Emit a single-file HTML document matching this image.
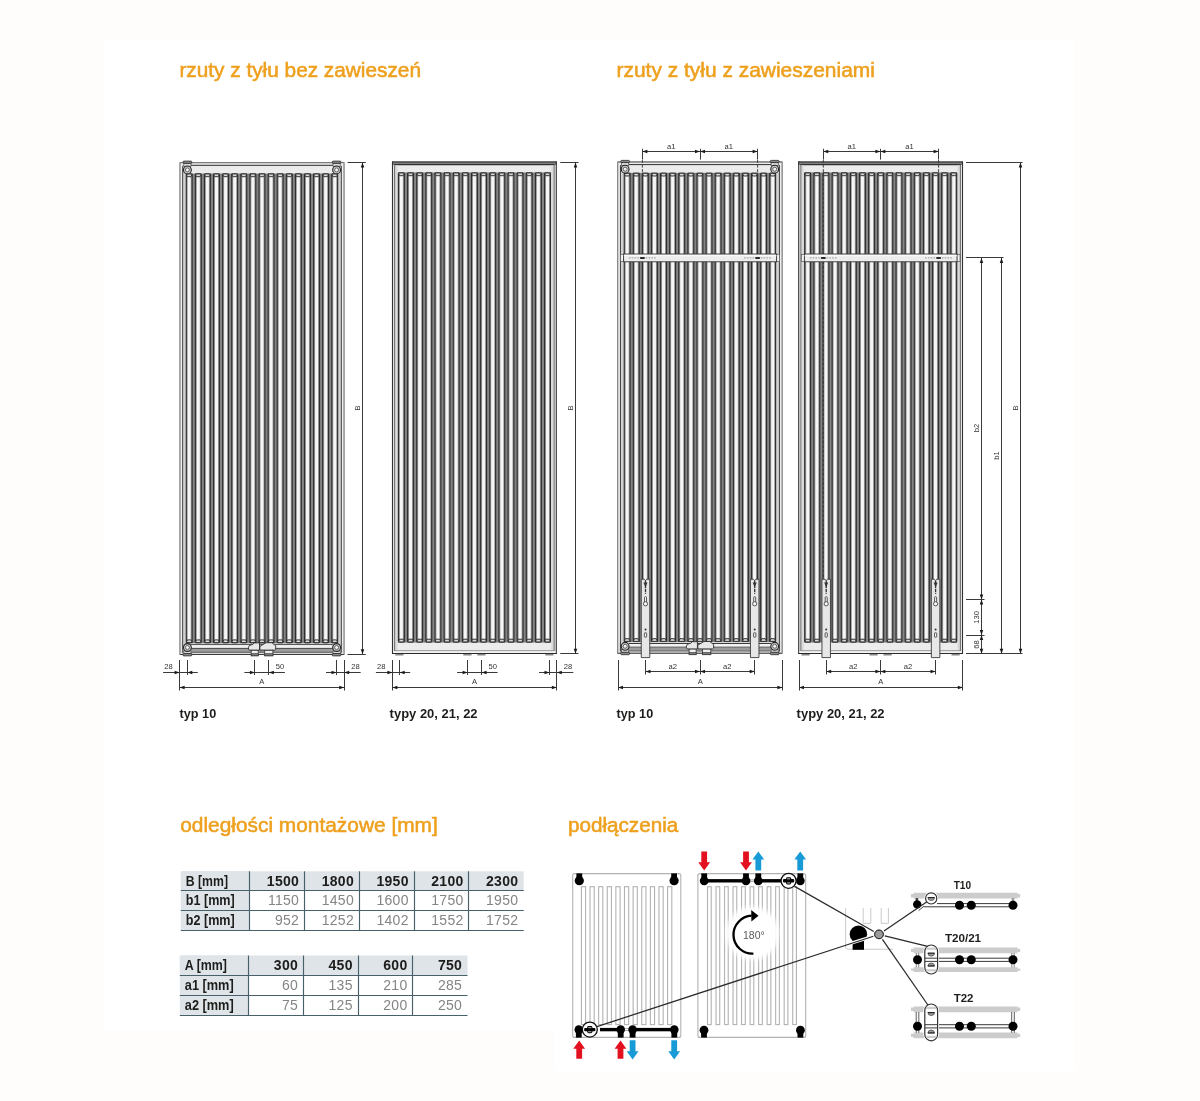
<!DOCTYPE html>
<html lang="pl"><head><meta charset="utf-8"><title>rzuty z tyłu</title>
<style>
html,body{margin:0;padding:0;background:#fefdfb;}
body{width:1200px;height:1101px;overflow:hidden;position:relative;font-family:'Liberation Sans',sans-serif;}
svg{position:absolute;left:0;top:0;display:block;}
svg text{font-family:'Liberation Sans',sans-serif;}
.h{font-size:20.2px;fill:#eea01e;stroke:#eea01e;stroke-width:0.55px;}
</style></head><body>
<svg width="1200" height="1101" viewBox="0 0 1200 1101">
<defs><filter id="soft" x="-2%" y="-2%" width="104%" height="104%"><feGaussianBlur stdDeviation="0.25"/></filter><filter id="soft2" x="-20%" y="-20%" width="140%" height="140%"><feGaussianBlur stdDeviation="2.2"/></filter></defs>
<rect x="0" y="0" width="1200" height="1101" fill="#fefdfb"/>
<rect x="104" y="40" width="971" height="990" fill="#ffffff"/>
<rect x="555" y="1030" width="520" height="41" fill="#ffffff"/>

<text class="h" x="179.4" y="76.5" textLength="241.6" lengthAdjust="spacingAndGlyphs">rzuty z tyłu bez zawieszeń</text>
<text class="h" x="616.5" y="76.5" textLength="258.4" lengthAdjust="spacingAndGlyphs">rzuty z tyłu z zawieszeniami</text>
<text class="h" x="180.2" y="831.8" textLength="257.6" lengthAdjust="spacingAndGlyphs">odległości montażowe [mm]</text>
<text class="h" x="568" y="832.0" textLength="110.2" lengthAdjust="spacingAndGlyphs">podłączenia</text>
<g filter="url(#soft)">
<rect x="179.60" y="162.30" width="164.80" height="492.60" fill="#848484" stroke="none" stroke-width="1" rx="0" />
<rect x="179.60" y="162.30" width="6.60" height="492.60" fill="#ededed" stroke="none" stroke-width="1" rx="0" />
<rect x="337.80" y="162.30" width="6.60" height="492.60" fill="#ededed" stroke="none" stroke-width="1" rx="0" />
<rect x="180.60" y="162.30" width="162.80" height="11.20" fill="#ececec" stroke="none" stroke-width="1" rx="0" />
<rect x="180.60" y="643.30" width="162.80" height="11.60" fill="#e4e4e4" stroke="none" stroke-width="1" rx="0" />
<line x1="180.00" y1="162.30" x2="180.00" y2="654.90" stroke="#707070" stroke-width="1.0" />
<line x1="344.00" y1="162.30" x2="344.00" y2="654.90" stroke="#707070" stroke-width="1.0" />
<rect x="183.30" y="165.80" width="2.60" height="488.60" fill="#d2d2d2" stroke="none" stroke-width="1" rx="0" />
<rect x="338.10" y="165.80" width="2.60" height="488.60" fill="#d2d2d2" stroke="none" stroke-width="1" rx="0" />
<line x1="182.70" y1="165.80" x2="182.70" y2="654.40" stroke="#3c3c3c" stroke-width="1.0" />
<line x1="341.30" y1="165.80" x2="341.30" y2="654.40" stroke="#3c3c3c" stroke-width="1.0" />
<line x1="180.10" y1="162.70" x2="343.90" y2="162.70" stroke="#7c7c7c" stroke-width="1.3" />
<line x1="191.10" y1="165.30" x2="332.90" y2="165.30" stroke="#2e2e2e" stroke-width="1.0" />
<line x1="191.10" y1="644.70" x2="332.90" y2="644.70" stroke="#3a3a3a" stroke-width="1.0" />
<rect x="191.10" y="645.20" width="141.80" height="2.80" fill="#f2f2f2" stroke="none" stroke-width="1" rx="0" />
<line x1="191.10" y1="648.40" x2="332.90" y2="648.40" stroke="#3a3a3a" stroke-width="1.0" />
<rect x="191.10" y="648.90" width="141.80" height="3.00" fill="#9c9c9c" stroke="none" stroke-width="1" rx="0" />
<line x1="191.10" y1="652.30" x2="332.90" y2="652.30" stroke="#3a3a3a" stroke-width="1.0" />
<rect x="180.60" y="652.80" width="162.80" height="1.40" fill="#dcdcdc" stroke="none" stroke-width="1" rx="0" />
<line x1="180.10" y1="654.50" x2="343.90" y2="654.50" stroke="#3a3a3a" stroke-width="1.1" />
<rect x="185.70" y="173.40" width="7.00" height="469.80" fill="#2e2e2e" stroke="none" stroke-width="1" rx="1.4" />
<rect x="186.85" y="174.20" width="4.70" height="468.20" fill="#9c9c9c" stroke="none" stroke-width="1" rx="0.8" />
<rect x="187.72" y="176.60" width="2.96" height="463.40" fill="#f6f6f6" stroke="none" stroke-width="1" rx="0" />
<path d="M186.30 174.00 H192.10 L191.00 176.70 H187.40 Z" fill="#d8d8d8" stroke="#262626" stroke-width="0.9" stroke-linejoin="round"/>
<path d="M186.30 642.60 H192.10 L191.00 639.90 H187.40 Z" fill="#d8d8d8" stroke="#262626" stroke-width="0.9" stroke-linejoin="round"/>
<rect x="194.80" y="173.40" width="7.00" height="469.80" fill="#2e2e2e" stroke="none" stroke-width="1" rx="1.4" />
<rect x="195.95" y="174.20" width="4.70" height="468.20" fill="#9c9c9c" stroke="none" stroke-width="1" rx="0.8" />
<rect x="196.82" y="176.60" width="2.96" height="463.40" fill="#f6f6f6" stroke="none" stroke-width="1" rx="0" />
<path d="M195.40 174.00 H201.20 L200.10 176.70 H196.50 Z" fill="#d8d8d8" stroke="#262626" stroke-width="0.9" stroke-linejoin="round"/>
<path d="M195.40 642.60 H201.20 L200.10 639.90 H196.50 Z" fill="#d8d8d8" stroke="#262626" stroke-width="0.9" stroke-linejoin="round"/>
<rect x="203.89" y="173.40" width="7.00" height="469.80" fill="#2e2e2e" stroke="none" stroke-width="1" rx="1.4" />
<rect x="205.04" y="174.20" width="4.70" height="468.20" fill="#9c9c9c" stroke="none" stroke-width="1" rx="0.8" />
<rect x="205.91" y="176.60" width="2.96" height="463.40" fill="#f6f6f6" stroke="none" stroke-width="1" rx="0" />
<path d="M204.49 174.00 H210.29 L209.19 176.70 H205.59 Z" fill="#d8d8d8" stroke="#262626" stroke-width="0.9" stroke-linejoin="round"/>
<path d="M204.49 642.60 H210.29 L209.19 639.90 H205.59 Z" fill="#d8d8d8" stroke="#262626" stroke-width="0.9" stroke-linejoin="round"/>
<rect x="212.99" y="173.40" width="7.00" height="469.80" fill="#2e2e2e" stroke="none" stroke-width="1" rx="1.4" />
<rect x="214.14" y="174.20" width="4.70" height="468.20" fill="#9c9c9c" stroke="none" stroke-width="1" rx="0.8" />
<rect x="215.01" y="176.60" width="2.96" height="463.40" fill="#f6f6f6" stroke="none" stroke-width="1" rx="0" />
<path d="M213.59 174.00 H219.39 L218.29 176.70 H214.69 Z" fill="#d8d8d8" stroke="#262626" stroke-width="0.9" stroke-linejoin="round"/>
<path d="M213.59 642.60 H219.39 L218.29 639.90 H214.69 Z" fill="#d8d8d8" stroke="#262626" stroke-width="0.9" stroke-linejoin="round"/>
<rect x="222.09" y="173.40" width="7.00" height="469.80" fill="#2e2e2e" stroke="none" stroke-width="1" rx="1.4" />
<rect x="223.24" y="174.20" width="4.70" height="468.20" fill="#9c9c9c" stroke="none" stroke-width="1" rx="0.8" />
<rect x="224.11" y="176.60" width="2.96" height="463.40" fill="#f6f6f6" stroke="none" stroke-width="1" rx="0" />
<path d="M222.69 174.00 H228.49 L227.39 176.70 H223.79 Z" fill="#d8d8d8" stroke="#262626" stroke-width="0.9" stroke-linejoin="round"/>
<path d="M222.69 642.60 H228.49 L227.39 639.90 H223.79 Z" fill="#d8d8d8" stroke="#262626" stroke-width="0.9" stroke-linejoin="round"/>
<rect x="231.18" y="173.40" width="7.00" height="469.80" fill="#2e2e2e" stroke="none" stroke-width="1" rx="1.4" />
<rect x="232.33" y="174.20" width="4.70" height="468.20" fill="#9c9c9c" stroke="none" stroke-width="1" rx="0.8" />
<rect x="233.20" y="176.60" width="2.96" height="463.40" fill="#f6f6f6" stroke="none" stroke-width="1" rx="0" />
<path d="M231.78 174.00 H237.58 L236.48 176.70 H232.88 Z" fill="#d8d8d8" stroke="#262626" stroke-width="0.9" stroke-linejoin="round"/>
<path d="M231.78 642.60 H237.58 L236.48 639.90 H232.88 Z" fill="#d8d8d8" stroke="#262626" stroke-width="0.9" stroke-linejoin="round"/>
<rect x="240.28" y="173.40" width="7.00" height="469.80" fill="#2e2e2e" stroke="none" stroke-width="1" rx="1.4" />
<rect x="241.43" y="174.20" width="4.70" height="468.20" fill="#9c9c9c" stroke="none" stroke-width="1" rx="0.8" />
<rect x="242.30" y="176.60" width="2.96" height="463.40" fill="#f6f6f6" stroke="none" stroke-width="1" rx="0" />
<path d="M240.88 174.00 H246.68 L245.58 176.70 H241.98 Z" fill="#d8d8d8" stroke="#262626" stroke-width="0.9" stroke-linejoin="round"/>
<path d="M240.88 642.60 H246.68 L245.58 639.90 H241.98 Z" fill="#d8d8d8" stroke="#262626" stroke-width="0.9" stroke-linejoin="round"/>
<rect x="249.38" y="173.40" width="7.00" height="469.80" fill="#2e2e2e" stroke="none" stroke-width="1" rx="1.4" />
<rect x="250.53" y="174.20" width="4.70" height="468.20" fill="#9c9c9c" stroke="none" stroke-width="1" rx="0.8" />
<rect x="251.40" y="176.60" width="2.96" height="463.40" fill="#f6f6f6" stroke="none" stroke-width="1" rx="0" />
<path d="M249.98 174.00 H255.78 L254.68 176.70 H251.08 Z" fill="#d8d8d8" stroke="#262626" stroke-width="0.9" stroke-linejoin="round"/>
<path d="M249.98 642.60 H255.78 L254.68 639.90 H251.08 Z" fill="#d8d8d8" stroke="#262626" stroke-width="0.9" stroke-linejoin="round"/>
<rect x="258.48" y="173.40" width="7.00" height="469.80" fill="#2e2e2e" stroke="none" stroke-width="1" rx="1.4" />
<rect x="259.62" y="174.20" width="4.70" height="468.20" fill="#9c9c9c" stroke="none" stroke-width="1" rx="0.8" />
<rect x="260.50" y="176.60" width="2.96" height="463.40" fill="#f6f6f6" stroke="none" stroke-width="1" rx="0" />
<path d="M259.08 174.00 H264.88 L263.78 176.70 H260.18 Z" fill="#d8d8d8" stroke="#262626" stroke-width="0.9" stroke-linejoin="round"/>
<path d="M259.08 642.60 H264.88 L263.78 639.90 H260.18 Z" fill="#d8d8d8" stroke="#262626" stroke-width="0.9" stroke-linejoin="round"/>
<rect x="267.57" y="173.40" width="7.00" height="469.80" fill="#2e2e2e" stroke="none" stroke-width="1" rx="1.4" />
<rect x="268.72" y="174.20" width="4.70" height="468.20" fill="#9c9c9c" stroke="none" stroke-width="1" rx="0.8" />
<rect x="269.59" y="176.60" width="2.96" height="463.40" fill="#f6f6f6" stroke="none" stroke-width="1" rx="0" />
<path d="M268.17 174.00 H273.97 L272.87 176.70 H269.27 Z" fill="#d8d8d8" stroke="#262626" stroke-width="0.9" stroke-linejoin="round"/>
<path d="M268.17 642.60 H273.97 L272.87 639.90 H269.27 Z" fill="#d8d8d8" stroke="#262626" stroke-width="0.9" stroke-linejoin="round"/>
<rect x="276.67" y="173.40" width="7.00" height="469.80" fill="#2e2e2e" stroke="none" stroke-width="1" rx="1.4" />
<rect x="277.82" y="174.20" width="4.70" height="468.20" fill="#9c9c9c" stroke="none" stroke-width="1" rx="0.8" />
<rect x="278.69" y="176.60" width="2.96" height="463.40" fill="#f6f6f6" stroke="none" stroke-width="1" rx="0" />
<path d="M277.27 174.00 H283.07 L281.97 176.70 H278.37 Z" fill="#d8d8d8" stroke="#262626" stroke-width="0.9" stroke-linejoin="round"/>
<path d="M277.27 642.60 H283.07 L281.97 639.90 H278.37 Z" fill="#d8d8d8" stroke="#262626" stroke-width="0.9" stroke-linejoin="round"/>
<rect x="285.77" y="173.40" width="7.00" height="469.80" fill="#2e2e2e" stroke="none" stroke-width="1" rx="1.4" />
<rect x="286.92" y="174.20" width="4.70" height="468.20" fill="#9c9c9c" stroke="none" stroke-width="1" rx="0.8" />
<rect x="287.79" y="176.60" width="2.96" height="463.40" fill="#f6f6f6" stroke="none" stroke-width="1" rx="0" />
<path d="M286.37 174.00 H292.17 L291.07 176.70 H287.47 Z" fill="#d8d8d8" stroke="#262626" stroke-width="0.9" stroke-linejoin="round"/>
<path d="M286.37 642.60 H292.17 L291.07 639.90 H287.47 Z" fill="#d8d8d8" stroke="#262626" stroke-width="0.9" stroke-linejoin="round"/>
<rect x="294.86" y="173.40" width="7.00" height="469.80" fill="#2e2e2e" stroke="none" stroke-width="1" rx="1.4" />
<rect x="296.01" y="174.20" width="4.70" height="468.20" fill="#9c9c9c" stroke="none" stroke-width="1" rx="0.8" />
<rect x="296.88" y="176.60" width="2.96" height="463.40" fill="#f6f6f6" stroke="none" stroke-width="1" rx="0" />
<path d="M295.46 174.00 H301.26 L300.16 176.70 H296.56 Z" fill="#d8d8d8" stroke="#262626" stroke-width="0.9" stroke-linejoin="round"/>
<path d="M295.46 642.60 H301.26 L300.16 639.90 H296.56 Z" fill="#d8d8d8" stroke="#262626" stroke-width="0.9" stroke-linejoin="round"/>
<rect x="303.96" y="173.40" width="7.00" height="469.80" fill="#2e2e2e" stroke="none" stroke-width="1" rx="1.4" />
<rect x="305.11" y="174.20" width="4.70" height="468.20" fill="#9c9c9c" stroke="none" stroke-width="1" rx="0.8" />
<rect x="305.98" y="176.60" width="2.96" height="463.40" fill="#f6f6f6" stroke="none" stroke-width="1" rx="0" />
<path d="M304.56 174.00 H310.36 L309.26 176.70 H305.66 Z" fill="#d8d8d8" stroke="#262626" stroke-width="0.9" stroke-linejoin="round"/>
<path d="M304.56 642.60 H310.36 L309.26 639.90 H305.66 Z" fill="#d8d8d8" stroke="#262626" stroke-width="0.9" stroke-linejoin="round"/>
<rect x="313.06" y="173.40" width="7.00" height="469.80" fill="#2e2e2e" stroke="none" stroke-width="1" rx="1.4" />
<rect x="314.21" y="174.20" width="4.70" height="468.20" fill="#9c9c9c" stroke="none" stroke-width="1" rx="0.8" />
<rect x="315.08" y="176.60" width="2.96" height="463.40" fill="#f6f6f6" stroke="none" stroke-width="1" rx="0" />
<path d="M313.66 174.00 H319.46 L318.36 176.70 H314.76 Z" fill="#d8d8d8" stroke="#262626" stroke-width="0.9" stroke-linejoin="round"/>
<path d="M313.66 642.60 H319.46 L318.36 639.90 H314.76 Z" fill="#d8d8d8" stroke="#262626" stroke-width="0.9" stroke-linejoin="round"/>
<rect x="322.15" y="173.40" width="7.00" height="469.80" fill="#2e2e2e" stroke="none" stroke-width="1" rx="1.4" />
<rect x="323.30" y="174.20" width="4.70" height="468.20" fill="#9c9c9c" stroke="none" stroke-width="1" rx="0.8" />
<rect x="324.17" y="176.60" width="2.96" height="463.40" fill="#f6f6f6" stroke="none" stroke-width="1" rx="0" />
<path d="M322.75 174.00 H328.55 L327.45 176.70 H323.85 Z" fill="#d8d8d8" stroke="#262626" stroke-width="0.9" stroke-linejoin="round"/>
<path d="M322.75 642.60 H328.55 L327.45 639.90 H323.85 Z" fill="#d8d8d8" stroke="#262626" stroke-width="0.9" stroke-linejoin="round"/>
<rect x="331.25" y="173.40" width="7.00" height="469.80" fill="#2e2e2e" stroke="none" stroke-width="1" rx="1.4" />
<rect x="332.40" y="174.20" width="4.70" height="468.20" fill="#9c9c9c" stroke="none" stroke-width="1" rx="0.8" />
<rect x="333.27" y="176.60" width="2.96" height="463.40" fill="#f6f6f6" stroke="none" stroke-width="1" rx="0" />
<path d="M331.85 174.00 H337.65 L336.55 176.70 H332.95 Z" fill="#d8d8d8" stroke="#262626" stroke-width="0.9" stroke-linejoin="round"/>
<path d="M331.85 642.60 H337.65 L336.55 639.90 H332.95 Z" fill="#d8d8d8" stroke="#262626" stroke-width="0.9" stroke-linejoin="round"/>
<rect x="183.80" y="163.30" width="7.20" height="3.00" fill="#dedede" stroke="#444" stroke-width="0.7" rx="0" />
<rect x="183.00" y="161.10" width="8.80" height="2.20" fill="#8c8c8c" stroke="#2a2a2a" stroke-width="0.8" rx="0.9" />
<circle cx="187.40" cy="169.90" r="3.90" fill="#cdcdcd" stroke="#222" stroke-width="1.1"/>
<circle cx="187.40" cy="169.90" r="2.00" fill="#f4f4f4" stroke="#444" stroke-width="0.8"/>
<rect x="183.80" y="650.90" width="7.20" height="2.60" fill="#dedede" stroke="#444" stroke-width="0.7" rx="0" />
<rect x="183.00" y="653.50" width="8.80" height="2.40" fill="#8c8c8c" stroke="#2a2a2a" stroke-width="0.8" rx="0.9" />
<circle cx="187.40" cy="647.50" r="3.90" fill="#cdcdcd" stroke="#222" stroke-width="1.1"/>
<circle cx="187.40" cy="647.50" r="2.00" fill="#f4f4f4" stroke="#444" stroke-width="0.8"/>
<rect x="333.00" y="163.30" width="7.20" height="3.00" fill="#dedede" stroke="#444" stroke-width="0.7" rx="0" />
<rect x="332.20" y="161.10" width="8.80" height="2.20" fill="#8c8c8c" stroke="#2a2a2a" stroke-width="0.8" rx="0.9" />
<circle cx="336.60" cy="169.90" r="3.90" fill="#cdcdcd" stroke="#222" stroke-width="1.1"/>
<circle cx="336.60" cy="169.90" r="2.00" fill="#f4f4f4" stroke="#444" stroke-width="0.8"/>
<rect x="333.00" y="650.90" width="7.20" height="2.60" fill="#dedede" stroke="#444" stroke-width="0.7" rx="0" />
<rect x="332.20" y="653.50" width="8.80" height="2.40" fill="#8c8c8c" stroke="#2a2a2a" stroke-width="0.8" rx="0.9" />
<circle cx="336.60" cy="647.50" r="3.90" fill="#cdcdcd" stroke="#222" stroke-width="1.1"/>
<circle cx="336.60" cy="647.50" r="2.00" fill="#f4f4f4" stroke="#444" stroke-width="0.8"/>
<rect x="251.20" y="650.10" width="7.00" height="5.80" fill="#f0f0f0" stroke="#333" stroke-width="0.8" rx="0" />
<rect x="251.20" y="653.70" width="7.00" height="2.00" fill="#7c7c7c" stroke="#333" stroke-width="0.6" rx="0" />
<rect x="264.70" y="650.10" width="8.20" height="5.80" fill="#f0f0f0" stroke="#333" stroke-width="0.8" rx="0" />
<rect x="264.70" y="653.70" width="8.20" height="2.00" fill="#7c7c7c" stroke="#333" stroke-width="0.6" rx="0" />
<polygon points="248.50,647.30 249.30,645.50 252.50,644.50 254.50,642.90 259.50,642.90 259.50,650.10 249.30,650.10 248.50,649.10" fill="#e8e8e8" stroke="#2e2e2e" stroke-width="0.9"/>
<polygon points="259.90,646.30 266.10,642.70 271.90,642.70 274.90,645.10 275.70,645.70 275.70,649.30 274.70,650.10 259.90,650.10" fill="#e8e8e8" stroke="#2e2e2e" stroke-width="0.9"/>
<rect x="392.00" y="161.40" width="164.80" height="492.60" fill="#ececec" stroke="none" stroke-width="1" rx="0" />
<rect x="397.60" y="172.40" width="153.60" height="470.20" fill="#848484" stroke="none" stroke-width="1" rx="0" />
<rect x="392.00" y="161.40" width="164.80" height="3.60" fill="#7e7e7e" stroke="none" stroke-width="1" rx="0" />
<line x1="392.00" y1="162.00" x2="556.80" y2="162.00" stroke="#333" stroke-width="1.1" />
<line x1="394.40" y1="164.60" x2="554.40" y2="164.60" stroke="#333" stroke-width="1.1" />
<line x1="392.50" y1="161.40" x2="392.50" y2="654.00" stroke="#333" stroke-width="1.1" />
<line x1="394.80" y1="164.40" x2="394.80" y2="651.00" stroke="#444" stroke-width="1.0" />
<rect x="395.40" y="165.20" width="2.20" height="485.40" fill="#dadada" stroke="none" stroke-width="1" rx="0" />
<line x1="556.30" y1="161.40" x2="556.30" y2="654.00" stroke="#333" stroke-width="1.1" />
<line x1="554.00" y1="164.40" x2="554.00" y2="651.00" stroke="#444" stroke-width="1.0" />
<rect x="551.20" y="165.20" width="2.20" height="485.40" fill="#dadada" stroke="none" stroke-width="1" rx="0" />
<line x1="394.80" y1="650.80" x2="554.00" y2="650.80" stroke="#8a8a8a" stroke-width="1.0" />
<rect x="393.20" y="651.40" width="162.40" height="1.80" fill="#f4f4f4" stroke="none" stroke-width="1" rx="0" />
<line x1="392.00" y1="653.50" x2="556.80" y2="653.50" stroke="#2a2a2a" stroke-width="1.2" />
<rect x="397.90" y="172.40" width="7.00" height="470.10" fill="#2e2e2e" stroke="none" stroke-width="1" rx="1.4" />
<rect x="399.05" y="173.20" width="4.70" height="468.50" fill="#9c9c9c" stroke="none" stroke-width="1" rx="0.8" />
<rect x="399.92" y="175.60" width="2.96" height="463.70" fill="#f6f6f6" stroke="none" stroke-width="1" rx="0" />
<path d="M398.50 173.00 H404.30 L403.20 175.70 H399.60 Z" fill="#d8d8d8" stroke="#262626" stroke-width="0.9" stroke-linejoin="round"/>
<path d="M398.50 641.90 H404.30 L403.20 639.20 H399.60 Z" fill="#d8d8d8" stroke="#262626" stroke-width="0.9" stroke-linejoin="round"/>
<rect x="407.03" y="172.40" width="7.00" height="470.10" fill="#2e2e2e" stroke="none" stroke-width="1" rx="1.4" />
<rect x="408.18" y="173.20" width="4.70" height="468.50" fill="#9c9c9c" stroke="none" stroke-width="1" rx="0.8" />
<rect x="409.05" y="175.60" width="2.96" height="463.70" fill="#f6f6f6" stroke="none" stroke-width="1" rx="0" />
<path d="M407.63 173.00 H413.43 L412.33 175.70 H408.73 Z" fill="#d8d8d8" stroke="#262626" stroke-width="0.9" stroke-linejoin="round"/>
<path d="M407.63 641.90 H413.43 L412.33 639.20 H408.73 Z" fill="#d8d8d8" stroke="#262626" stroke-width="0.9" stroke-linejoin="round"/>
<rect x="416.16" y="172.40" width="7.00" height="470.10" fill="#2e2e2e" stroke="none" stroke-width="1" rx="1.4" />
<rect x="417.31" y="173.20" width="4.70" height="468.50" fill="#9c9c9c" stroke="none" stroke-width="1" rx="0.8" />
<rect x="418.18" y="175.60" width="2.96" height="463.70" fill="#f6f6f6" stroke="none" stroke-width="1" rx="0" />
<path d="M416.76 173.00 H422.56 L421.46 175.70 H417.86 Z" fill="#d8d8d8" stroke="#262626" stroke-width="0.9" stroke-linejoin="round"/>
<path d="M416.76 641.90 H422.56 L421.46 639.20 H417.86 Z" fill="#d8d8d8" stroke="#262626" stroke-width="0.9" stroke-linejoin="round"/>
<rect x="425.29" y="172.40" width="7.00" height="470.10" fill="#2e2e2e" stroke="none" stroke-width="1" rx="1.4" />
<rect x="426.44" y="173.20" width="4.70" height="468.50" fill="#9c9c9c" stroke="none" stroke-width="1" rx="0.8" />
<rect x="427.31" y="175.60" width="2.96" height="463.70" fill="#f6f6f6" stroke="none" stroke-width="1" rx="0" />
<path d="M425.89 173.00 H431.69 L430.59 175.70 H426.99 Z" fill="#d8d8d8" stroke="#262626" stroke-width="0.9" stroke-linejoin="round"/>
<path d="M425.89 641.90 H431.69 L430.59 639.20 H426.99 Z" fill="#d8d8d8" stroke="#262626" stroke-width="0.9" stroke-linejoin="round"/>
<rect x="434.42" y="172.40" width="7.00" height="470.10" fill="#2e2e2e" stroke="none" stroke-width="1" rx="1.4" />
<rect x="435.57" y="173.20" width="4.70" height="468.50" fill="#9c9c9c" stroke="none" stroke-width="1" rx="0.8" />
<rect x="436.44" y="175.60" width="2.96" height="463.70" fill="#f6f6f6" stroke="none" stroke-width="1" rx="0" />
<path d="M435.02 173.00 H440.82 L439.72 175.70 H436.12 Z" fill="#d8d8d8" stroke="#262626" stroke-width="0.9" stroke-linejoin="round"/>
<path d="M435.02 641.90 H440.82 L439.72 639.20 H436.12 Z" fill="#d8d8d8" stroke="#262626" stroke-width="0.9" stroke-linejoin="round"/>
<rect x="443.56" y="172.40" width="7.00" height="470.10" fill="#2e2e2e" stroke="none" stroke-width="1" rx="1.4" />
<rect x="444.71" y="173.20" width="4.70" height="468.50" fill="#9c9c9c" stroke="none" stroke-width="1" rx="0.8" />
<rect x="445.58" y="175.60" width="2.96" height="463.70" fill="#f6f6f6" stroke="none" stroke-width="1" rx="0" />
<path d="M444.16 173.00 H449.96 L448.86 175.70 H445.26 Z" fill="#d8d8d8" stroke="#262626" stroke-width="0.9" stroke-linejoin="round"/>
<path d="M444.16 641.90 H449.96 L448.86 639.20 H445.26 Z" fill="#d8d8d8" stroke="#262626" stroke-width="0.9" stroke-linejoin="round"/>
<rect x="452.69" y="172.40" width="7.00" height="470.10" fill="#2e2e2e" stroke="none" stroke-width="1" rx="1.4" />
<rect x="453.84" y="173.20" width="4.70" height="468.50" fill="#9c9c9c" stroke="none" stroke-width="1" rx="0.8" />
<rect x="454.71" y="175.60" width="2.96" height="463.70" fill="#f6f6f6" stroke="none" stroke-width="1" rx="0" />
<path d="M453.29 173.00 H459.09 L457.99 175.70 H454.39 Z" fill="#d8d8d8" stroke="#262626" stroke-width="0.9" stroke-linejoin="round"/>
<path d="M453.29 641.90 H459.09 L457.99 639.20 H454.39 Z" fill="#d8d8d8" stroke="#262626" stroke-width="0.9" stroke-linejoin="round"/>
<rect x="461.82" y="172.40" width="7.00" height="470.10" fill="#2e2e2e" stroke="none" stroke-width="1" rx="1.4" />
<rect x="462.97" y="173.20" width="4.70" height="468.50" fill="#9c9c9c" stroke="none" stroke-width="1" rx="0.8" />
<rect x="463.84" y="175.60" width="2.96" height="463.70" fill="#f6f6f6" stroke="none" stroke-width="1" rx="0" />
<path d="M462.42 173.00 H468.22 L467.12 175.70 H463.52 Z" fill="#d8d8d8" stroke="#262626" stroke-width="0.9" stroke-linejoin="round"/>
<path d="M462.42 641.90 H468.22 L467.12 639.20 H463.52 Z" fill="#d8d8d8" stroke="#262626" stroke-width="0.9" stroke-linejoin="round"/>
<rect x="470.95" y="172.40" width="7.00" height="470.10" fill="#2e2e2e" stroke="none" stroke-width="1" rx="1.4" />
<rect x="472.10" y="173.20" width="4.70" height="468.50" fill="#9c9c9c" stroke="none" stroke-width="1" rx="0.8" />
<rect x="472.97" y="175.60" width="2.96" height="463.70" fill="#f6f6f6" stroke="none" stroke-width="1" rx="0" />
<path d="M471.55 173.00 H477.35 L476.25 175.70 H472.65 Z" fill="#d8d8d8" stroke="#262626" stroke-width="0.9" stroke-linejoin="round"/>
<path d="M471.55 641.90 H477.35 L476.25 639.20 H472.65 Z" fill="#d8d8d8" stroke="#262626" stroke-width="0.9" stroke-linejoin="round"/>
<rect x="480.08" y="172.40" width="7.00" height="470.10" fill="#2e2e2e" stroke="none" stroke-width="1" rx="1.4" />
<rect x="481.23" y="173.20" width="4.70" height="468.50" fill="#9c9c9c" stroke="none" stroke-width="1" rx="0.8" />
<rect x="482.10" y="175.60" width="2.96" height="463.70" fill="#f6f6f6" stroke="none" stroke-width="1" rx="0" />
<path d="M480.68 173.00 H486.48 L485.38 175.70 H481.78 Z" fill="#d8d8d8" stroke="#262626" stroke-width="0.9" stroke-linejoin="round"/>
<path d="M480.68 641.90 H486.48 L485.38 639.20 H481.78 Z" fill="#d8d8d8" stroke="#262626" stroke-width="0.9" stroke-linejoin="round"/>
<rect x="489.21" y="172.40" width="7.00" height="470.10" fill="#2e2e2e" stroke="none" stroke-width="1" rx="1.4" />
<rect x="490.36" y="173.20" width="4.70" height="468.50" fill="#9c9c9c" stroke="none" stroke-width="1" rx="0.8" />
<rect x="491.23" y="175.60" width="2.96" height="463.70" fill="#f6f6f6" stroke="none" stroke-width="1" rx="0" />
<path d="M489.81 173.00 H495.61 L494.51 175.70 H490.91 Z" fill="#d8d8d8" stroke="#262626" stroke-width="0.9" stroke-linejoin="round"/>
<path d="M489.81 641.90 H495.61 L494.51 639.20 H490.91 Z" fill="#d8d8d8" stroke="#262626" stroke-width="0.9" stroke-linejoin="round"/>
<rect x="498.34" y="172.40" width="7.00" height="470.10" fill="#2e2e2e" stroke="none" stroke-width="1" rx="1.4" />
<rect x="499.49" y="173.20" width="4.70" height="468.50" fill="#9c9c9c" stroke="none" stroke-width="1" rx="0.8" />
<rect x="500.36" y="175.60" width="2.96" height="463.70" fill="#f6f6f6" stroke="none" stroke-width="1" rx="0" />
<path d="M498.94 173.00 H504.74 L503.64 175.70 H500.04 Z" fill="#d8d8d8" stroke="#262626" stroke-width="0.9" stroke-linejoin="round"/>
<path d="M498.94 641.90 H504.74 L503.64 639.20 H500.04 Z" fill="#d8d8d8" stroke="#262626" stroke-width="0.9" stroke-linejoin="round"/>
<rect x="507.48" y="172.40" width="7.00" height="470.10" fill="#2e2e2e" stroke="none" stroke-width="1" rx="1.4" />
<rect x="508.62" y="173.20" width="4.70" height="468.50" fill="#9c9c9c" stroke="none" stroke-width="1" rx="0.8" />
<rect x="509.50" y="175.60" width="2.96" height="463.70" fill="#f6f6f6" stroke="none" stroke-width="1" rx="0" />
<path d="M508.08 173.00 H513.88 L512.77 175.70 H509.18 Z" fill="#d8d8d8" stroke="#262626" stroke-width="0.9" stroke-linejoin="round"/>
<path d="M508.08 641.90 H513.88 L512.77 639.20 H509.18 Z" fill="#d8d8d8" stroke="#262626" stroke-width="0.9" stroke-linejoin="round"/>
<rect x="516.61" y="172.40" width="7.00" height="470.10" fill="#2e2e2e" stroke="none" stroke-width="1" rx="1.4" />
<rect x="517.76" y="173.20" width="4.70" height="468.50" fill="#9c9c9c" stroke="none" stroke-width="1" rx="0.8" />
<rect x="518.63" y="175.60" width="2.96" height="463.70" fill="#f6f6f6" stroke="none" stroke-width="1" rx="0" />
<path d="M517.21 173.00 H523.01 L521.91 175.70 H518.31 Z" fill="#d8d8d8" stroke="#262626" stroke-width="0.9" stroke-linejoin="round"/>
<path d="M517.21 641.90 H523.01 L521.91 639.20 H518.31 Z" fill="#d8d8d8" stroke="#262626" stroke-width="0.9" stroke-linejoin="round"/>
<rect x="525.74" y="172.40" width="7.00" height="470.10" fill="#2e2e2e" stroke="none" stroke-width="1" rx="1.4" />
<rect x="526.89" y="173.20" width="4.70" height="468.50" fill="#9c9c9c" stroke="none" stroke-width="1" rx="0.8" />
<rect x="527.76" y="175.60" width="2.96" height="463.70" fill="#f6f6f6" stroke="none" stroke-width="1" rx="0" />
<path d="M526.34 173.00 H532.14 L531.04 175.70 H527.44 Z" fill="#d8d8d8" stroke="#262626" stroke-width="0.9" stroke-linejoin="round"/>
<path d="M526.34 641.90 H532.14 L531.04 639.20 H527.44 Z" fill="#d8d8d8" stroke="#262626" stroke-width="0.9" stroke-linejoin="round"/>
<rect x="534.87" y="172.40" width="7.00" height="470.10" fill="#2e2e2e" stroke="none" stroke-width="1" rx="1.4" />
<rect x="536.02" y="173.20" width="4.70" height="468.50" fill="#9c9c9c" stroke="none" stroke-width="1" rx="0.8" />
<rect x="536.89" y="175.60" width="2.96" height="463.70" fill="#f6f6f6" stroke="none" stroke-width="1" rx="0" />
<path d="M535.47 173.00 H541.27 L540.17 175.70 H536.57 Z" fill="#d8d8d8" stroke="#262626" stroke-width="0.9" stroke-linejoin="round"/>
<path d="M535.47 641.90 H541.27 L540.17 639.20 H536.57 Z" fill="#d8d8d8" stroke="#262626" stroke-width="0.9" stroke-linejoin="round"/>
<rect x="544.00" y="172.40" width="7.00" height="470.10" fill="#2e2e2e" stroke="none" stroke-width="1" rx="1.4" />
<rect x="545.15" y="173.20" width="4.70" height="468.50" fill="#9c9c9c" stroke="none" stroke-width="1" rx="0.8" />
<rect x="546.02" y="175.60" width="2.96" height="463.70" fill="#f6f6f6" stroke="none" stroke-width="1" rx="0" />
<path d="M544.60 173.00 H550.40 L549.30 175.70 H545.70 Z" fill="#d8d8d8" stroke="#262626" stroke-width="0.9" stroke-linejoin="round"/>
<path d="M544.60 641.90 H550.40 L549.30 639.20 H545.70 Z" fill="#d8d8d8" stroke="#262626" stroke-width="0.9" stroke-linejoin="round"/>
<rect x="395.20" y="654.00" width="8.40" height="1.50" fill="#8a8a8a" stroke="none" stroke-width="1" rx="0.6" />
<rect x="463.20" y="654.00" width="8.40" height="1.50" fill="#8a8a8a" stroke="none" stroke-width="1" rx="0.6" />
<rect x="477.20" y="654.00" width="8.40" height="1.50" fill="#8a8a8a" stroke="none" stroke-width="1" rx="0.6" />
<rect x="545.20" y="654.00" width="8.40" height="1.50" fill="#8a8a8a" stroke="none" stroke-width="1" rx="0.6" />
<rect x="617.35" y="161.60" width="165.15" height="492.10" fill="#848484" stroke="none" stroke-width="1" rx="0" />
<rect x="617.35" y="161.60" width="6.60" height="492.10" fill="#ededed" stroke="none" stroke-width="1" rx="0" />
<rect x="775.90" y="161.60" width="6.60" height="492.10" fill="#ededed" stroke="none" stroke-width="1" rx="0" />
<rect x="618.35" y="161.60" width="163.15" height="11.20" fill="#ececec" stroke="none" stroke-width="1" rx="0" />
<rect x="618.35" y="642.10" width="163.15" height="11.60" fill="#e4e4e4" stroke="none" stroke-width="1" rx="0" />
<line x1="617.75" y1="161.60" x2="617.75" y2="653.70" stroke="#707070" stroke-width="1.0" />
<line x1="782.10" y1="161.60" x2="782.10" y2="653.70" stroke="#707070" stroke-width="1.0" />
<rect x="621.05" y="165.10" width="2.60" height="488.10" fill="#d2d2d2" stroke="none" stroke-width="1" rx="0" />
<rect x="776.20" y="165.10" width="2.60" height="488.10" fill="#d2d2d2" stroke="none" stroke-width="1" rx="0" />
<line x1="620.45" y1="165.10" x2="620.45" y2="653.20" stroke="#3c3c3c" stroke-width="1.0" />
<line x1="779.40" y1="165.10" x2="779.40" y2="653.20" stroke="#3c3c3c" stroke-width="1.0" />
<line x1="617.85" y1="162.00" x2="782.00" y2="162.00" stroke="#7c7c7c" stroke-width="1.3" />
<line x1="628.85" y1="164.60" x2="771.00" y2="164.60" stroke="#2e2e2e" stroke-width="1.0" />
<line x1="628.85" y1="643.50" x2="771.00" y2="643.50" stroke="#3a3a3a" stroke-width="1.0" />
<rect x="628.85" y="644.00" width="142.15" height="2.80" fill="#f2f2f2" stroke="none" stroke-width="1" rx="0" />
<line x1="628.85" y1="647.20" x2="771.00" y2="647.20" stroke="#3a3a3a" stroke-width="1.0" />
<rect x="628.85" y="647.70" width="142.15" height="3.00" fill="#9c9c9c" stroke="none" stroke-width="1" rx="0" />
<line x1="628.85" y1="651.10" x2="771.00" y2="651.10" stroke="#3a3a3a" stroke-width="1.0" />
<rect x="618.35" y="651.60" width="163.15" height="1.40" fill="#dcdcdc" stroke="none" stroke-width="1" rx="0" />
<line x1="617.85" y1="653.30" x2="782.00" y2="653.30" stroke="#3a3a3a" stroke-width="1.1" />
<rect x="623.65" y="172.70" width="7.00" height="469.30" fill="#2e2e2e" stroke="none" stroke-width="1" rx="1.4" />
<rect x="624.80" y="173.50" width="4.70" height="467.70" fill="#9c9c9c" stroke="none" stroke-width="1" rx="0.8" />
<rect x="625.67" y="175.90" width="2.96" height="462.90" fill="#f6f6f6" stroke="none" stroke-width="1" rx="0" />
<path d="M624.25 173.30 H630.05 L628.95 176.00 H625.35 Z" fill="#d8d8d8" stroke="#262626" stroke-width="0.9" stroke-linejoin="round"/>
<path d="M624.25 641.40 H630.05 L628.95 638.70 H625.35 Z" fill="#d8d8d8" stroke="#262626" stroke-width="0.9" stroke-linejoin="round"/>
<rect x="632.75" y="172.70" width="7.00" height="469.30" fill="#2e2e2e" stroke="none" stroke-width="1" rx="1.4" />
<rect x="633.90" y="173.50" width="4.70" height="467.70" fill="#9c9c9c" stroke="none" stroke-width="1" rx="0.8" />
<rect x="634.77" y="175.90" width="2.96" height="462.90" fill="#f6f6f6" stroke="none" stroke-width="1" rx="0" />
<path d="M633.35 173.30 H639.15 L638.05 176.00 H634.45 Z" fill="#d8d8d8" stroke="#262626" stroke-width="0.9" stroke-linejoin="round"/>
<path d="M633.35 641.40 H639.15 L638.05 638.70 H634.45 Z" fill="#d8d8d8" stroke="#262626" stroke-width="0.9" stroke-linejoin="round"/>
<rect x="641.84" y="172.70" width="7.00" height="469.30" fill="#2e2e2e" stroke="none" stroke-width="1" rx="1.4" />
<rect x="642.99" y="173.50" width="4.70" height="467.70" fill="#9c9c9c" stroke="none" stroke-width="1" rx="0.8" />
<rect x="643.86" y="175.90" width="2.96" height="462.90" fill="#f6f6f6" stroke="none" stroke-width="1" rx="0" />
<path d="M642.44 173.30 H648.24 L647.14 176.00 H643.54 Z" fill="#d8d8d8" stroke="#262626" stroke-width="0.9" stroke-linejoin="round"/>
<path d="M642.44 641.40 H648.24 L647.14 638.70 H643.54 Z" fill="#d8d8d8" stroke="#262626" stroke-width="0.9" stroke-linejoin="round"/>
<rect x="650.94" y="172.70" width="7.00" height="469.30" fill="#2e2e2e" stroke="none" stroke-width="1" rx="1.4" />
<rect x="652.09" y="173.50" width="4.70" height="467.70" fill="#9c9c9c" stroke="none" stroke-width="1" rx="0.8" />
<rect x="652.96" y="175.90" width="2.96" height="462.90" fill="#f6f6f6" stroke="none" stroke-width="1" rx="0" />
<path d="M651.54 173.30 H657.34 L656.24 176.00 H652.64 Z" fill="#d8d8d8" stroke="#262626" stroke-width="0.9" stroke-linejoin="round"/>
<path d="M651.54 641.40 H657.34 L656.24 638.70 H652.64 Z" fill="#d8d8d8" stroke="#262626" stroke-width="0.9" stroke-linejoin="round"/>
<rect x="660.04" y="172.70" width="7.00" height="469.30" fill="#2e2e2e" stroke="none" stroke-width="1" rx="1.4" />
<rect x="661.19" y="173.50" width="4.70" height="467.70" fill="#9c9c9c" stroke="none" stroke-width="1" rx="0.8" />
<rect x="662.06" y="175.90" width="2.96" height="462.90" fill="#f6f6f6" stroke="none" stroke-width="1" rx="0" />
<path d="M660.64 173.30 H666.44 L665.34 176.00 H661.74 Z" fill="#d8d8d8" stroke="#262626" stroke-width="0.9" stroke-linejoin="round"/>
<path d="M660.64 641.40 H666.44 L665.34 638.70 H661.74 Z" fill="#d8d8d8" stroke="#262626" stroke-width="0.9" stroke-linejoin="round"/>
<rect x="669.13" y="172.70" width="7.00" height="469.30" fill="#2e2e2e" stroke="none" stroke-width="1" rx="1.4" />
<rect x="670.28" y="173.50" width="4.70" height="467.70" fill="#9c9c9c" stroke="none" stroke-width="1" rx="0.8" />
<rect x="671.15" y="175.90" width="2.96" height="462.90" fill="#f6f6f6" stroke="none" stroke-width="1" rx="0" />
<path d="M669.73 173.30 H675.53 L674.43 176.00 H670.83 Z" fill="#d8d8d8" stroke="#262626" stroke-width="0.9" stroke-linejoin="round"/>
<path d="M669.73 641.40 H675.53 L674.43 638.70 H670.83 Z" fill="#d8d8d8" stroke="#262626" stroke-width="0.9" stroke-linejoin="round"/>
<rect x="678.23" y="172.70" width="7.00" height="469.30" fill="#2e2e2e" stroke="none" stroke-width="1" rx="1.4" />
<rect x="679.38" y="173.50" width="4.70" height="467.70" fill="#9c9c9c" stroke="none" stroke-width="1" rx="0.8" />
<rect x="680.25" y="175.90" width="2.96" height="462.90" fill="#f6f6f6" stroke="none" stroke-width="1" rx="0" />
<path d="M678.83 173.30 H684.63 L683.53 176.00 H679.93 Z" fill="#d8d8d8" stroke="#262626" stroke-width="0.9" stroke-linejoin="round"/>
<path d="M678.83 641.40 H684.63 L683.53 638.70 H679.93 Z" fill="#d8d8d8" stroke="#262626" stroke-width="0.9" stroke-linejoin="round"/>
<rect x="687.33" y="172.70" width="7.00" height="469.30" fill="#2e2e2e" stroke="none" stroke-width="1" rx="1.4" />
<rect x="688.48" y="173.50" width="4.70" height="467.70" fill="#9c9c9c" stroke="none" stroke-width="1" rx="0.8" />
<rect x="689.35" y="175.90" width="2.96" height="462.90" fill="#f6f6f6" stroke="none" stroke-width="1" rx="0" />
<path d="M687.93 173.30 H693.73 L692.63 176.00 H689.03 Z" fill="#d8d8d8" stroke="#262626" stroke-width="0.9" stroke-linejoin="round"/>
<path d="M687.93 641.40 H693.73 L692.63 638.70 H689.03 Z" fill="#d8d8d8" stroke="#262626" stroke-width="0.9" stroke-linejoin="round"/>
<rect x="696.42" y="172.70" width="7.00" height="469.30" fill="#2e2e2e" stroke="none" stroke-width="1" rx="1.4" />
<rect x="697.57" y="173.50" width="4.70" height="467.70" fill="#9c9c9c" stroke="none" stroke-width="1" rx="0.8" />
<rect x="698.44" y="175.90" width="2.96" height="462.90" fill="#f6f6f6" stroke="none" stroke-width="1" rx="0" />
<path d="M697.02 173.30 H702.82 L701.72 176.00 H698.12 Z" fill="#d8d8d8" stroke="#262626" stroke-width="0.9" stroke-linejoin="round"/>
<path d="M697.02 641.40 H702.82 L701.72 638.70 H698.12 Z" fill="#d8d8d8" stroke="#262626" stroke-width="0.9" stroke-linejoin="round"/>
<rect x="705.52" y="172.70" width="7.00" height="469.30" fill="#2e2e2e" stroke="none" stroke-width="1" rx="1.4" />
<rect x="706.67" y="173.50" width="4.70" height="467.70" fill="#9c9c9c" stroke="none" stroke-width="1" rx="0.8" />
<rect x="707.54" y="175.90" width="2.96" height="462.90" fill="#f6f6f6" stroke="none" stroke-width="1" rx="0" />
<path d="M706.12 173.30 H711.92 L710.82 176.00 H707.22 Z" fill="#d8d8d8" stroke="#262626" stroke-width="0.9" stroke-linejoin="round"/>
<path d="M706.12 641.40 H711.92 L710.82 638.70 H707.22 Z" fill="#d8d8d8" stroke="#262626" stroke-width="0.9" stroke-linejoin="round"/>
<rect x="714.62" y="172.70" width="7.00" height="469.30" fill="#2e2e2e" stroke="none" stroke-width="1" rx="1.4" />
<rect x="715.77" y="173.50" width="4.70" height="467.70" fill="#9c9c9c" stroke="none" stroke-width="1" rx="0.8" />
<rect x="716.64" y="175.90" width="2.96" height="462.90" fill="#f6f6f6" stroke="none" stroke-width="1" rx="0" />
<path d="M715.22 173.30 H721.02 L719.92 176.00 H716.32 Z" fill="#d8d8d8" stroke="#262626" stroke-width="0.9" stroke-linejoin="round"/>
<path d="M715.22 641.40 H721.02 L719.92 638.70 H716.32 Z" fill="#d8d8d8" stroke="#262626" stroke-width="0.9" stroke-linejoin="round"/>
<rect x="723.72" y="172.70" width="7.00" height="469.30" fill="#2e2e2e" stroke="none" stroke-width="1" rx="1.4" />
<rect x="724.87" y="173.50" width="4.70" height="467.70" fill="#9c9c9c" stroke="none" stroke-width="1" rx="0.8" />
<rect x="725.74" y="175.90" width="2.96" height="462.90" fill="#f6f6f6" stroke="none" stroke-width="1" rx="0" />
<path d="M724.32 173.30 H730.12 L729.02 176.00 H725.42 Z" fill="#d8d8d8" stroke="#262626" stroke-width="0.9" stroke-linejoin="round"/>
<path d="M724.32 641.40 H730.12 L729.02 638.70 H725.42 Z" fill="#d8d8d8" stroke="#262626" stroke-width="0.9" stroke-linejoin="round"/>
<rect x="732.81" y="172.70" width="7.00" height="469.30" fill="#2e2e2e" stroke="none" stroke-width="1" rx="1.4" />
<rect x="733.96" y="173.50" width="4.70" height="467.70" fill="#9c9c9c" stroke="none" stroke-width="1" rx="0.8" />
<rect x="734.83" y="175.90" width="2.96" height="462.90" fill="#f6f6f6" stroke="none" stroke-width="1" rx="0" />
<path d="M733.41 173.30 H739.21 L738.11 176.00 H734.51 Z" fill="#d8d8d8" stroke="#262626" stroke-width="0.9" stroke-linejoin="round"/>
<path d="M733.41 641.40 H739.21 L738.11 638.70 H734.51 Z" fill="#d8d8d8" stroke="#262626" stroke-width="0.9" stroke-linejoin="round"/>
<rect x="741.91" y="172.70" width="7.00" height="469.30" fill="#2e2e2e" stroke="none" stroke-width="1" rx="1.4" />
<rect x="743.06" y="173.50" width="4.70" height="467.70" fill="#9c9c9c" stroke="none" stroke-width="1" rx="0.8" />
<rect x="743.93" y="175.90" width="2.96" height="462.90" fill="#f6f6f6" stroke="none" stroke-width="1" rx="0" />
<path d="M742.51 173.30 H748.31 L747.21 176.00 H743.61 Z" fill="#d8d8d8" stroke="#262626" stroke-width="0.9" stroke-linejoin="round"/>
<path d="M742.51 641.40 H748.31 L747.21 638.70 H743.61 Z" fill="#d8d8d8" stroke="#262626" stroke-width="0.9" stroke-linejoin="round"/>
<rect x="751.01" y="172.70" width="7.00" height="469.30" fill="#2e2e2e" stroke="none" stroke-width="1" rx="1.4" />
<rect x="752.16" y="173.50" width="4.70" height="467.70" fill="#9c9c9c" stroke="none" stroke-width="1" rx="0.8" />
<rect x="753.03" y="175.90" width="2.96" height="462.90" fill="#f6f6f6" stroke="none" stroke-width="1" rx="0" />
<path d="M751.61 173.30 H757.41 L756.31 176.00 H752.71 Z" fill="#d8d8d8" stroke="#262626" stroke-width="0.9" stroke-linejoin="round"/>
<path d="M751.61 641.40 H757.41 L756.31 638.70 H752.71 Z" fill="#d8d8d8" stroke="#262626" stroke-width="0.9" stroke-linejoin="round"/>
<rect x="760.10" y="172.70" width="7.00" height="469.30" fill="#2e2e2e" stroke="none" stroke-width="1" rx="1.4" />
<rect x="761.25" y="173.50" width="4.70" height="467.70" fill="#9c9c9c" stroke="none" stroke-width="1" rx="0.8" />
<rect x="762.12" y="175.90" width="2.96" height="462.90" fill="#f6f6f6" stroke="none" stroke-width="1" rx="0" />
<path d="M760.70 173.30 H766.50 L765.40 176.00 H761.80 Z" fill="#d8d8d8" stroke="#262626" stroke-width="0.9" stroke-linejoin="round"/>
<path d="M760.70 641.40 H766.50 L765.40 638.70 H761.80 Z" fill="#d8d8d8" stroke="#262626" stroke-width="0.9" stroke-linejoin="round"/>
<rect x="769.20" y="172.70" width="7.00" height="469.30" fill="#2e2e2e" stroke="none" stroke-width="1" rx="1.4" />
<rect x="770.35" y="173.50" width="4.70" height="467.70" fill="#9c9c9c" stroke="none" stroke-width="1" rx="0.8" />
<rect x="771.22" y="175.90" width="2.96" height="462.90" fill="#f6f6f6" stroke="none" stroke-width="1" rx="0" />
<path d="M769.80 173.30 H775.60 L774.50 176.00 H770.90 Z" fill="#d8d8d8" stroke="#262626" stroke-width="0.9" stroke-linejoin="round"/>
<path d="M769.80 641.40 H775.60 L774.50 638.70 H770.90 Z" fill="#d8d8d8" stroke="#262626" stroke-width="0.9" stroke-linejoin="round"/>
<rect x="621.55" y="162.60" width="7.20" height="3.00" fill="#dedede" stroke="#444" stroke-width="0.7" rx="0" />
<rect x="620.75" y="160.40" width="8.80" height="2.20" fill="#8c8c8c" stroke="#2a2a2a" stroke-width="0.8" rx="0.9" />
<circle cx="625.15" cy="169.20" r="3.90" fill="#cdcdcd" stroke="#222" stroke-width="1.1"/>
<circle cx="625.15" cy="169.20" r="2.00" fill="#f4f4f4" stroke="#444" stroke-width="0.8"/>
<rect x="621.55" y="649.70" width="7.20" height="2.60" fill="#dedede" stroke="#444" stroke-width="0.7" rx="0" />
<rect x="620.75" y="652.30" width="8.80" height="2.40" fill="#8c8c8c" stroke="#2a2a2a" stroke-width="0.8" rx="0.9" />
<circle cx="625.15" cy="646.30" r="3.90" fill="#cdcdcd" stroke="#222" stroke-width="1.1"/>
<circle cx="625.15" cy="646.30" r="2.00" fill="#f4f4f4" stroke="#444" stroke-width="0.8"/>
<rect x="771.10" y="162.60" width="7.20" height="3.00" fill="#dedede" stroke="#444" stroke-width="0.7" rx="0" />
<rect x="770.30" y="160.40" width="8.80" height="2.20" fill="#8c8c8c" stroke="#2a2a2a" stroke-width="0.8" rx="0.9" />
<circle cx="774.70" cy="169.20" r="3.90" fill="#cdcdcd" stroke="#222" stroke-width="1.1"/>
<circle cx="774.70" cy="169.20" r="2.00" fill="#f4f4f4" stroke="#444" stroke-width="0.8"/>
<rect x="771.10" y="649.70" width="7.20" height="2.60" fill="#dedede" stroke="#444" stroke-width="0.7" rx="0" />
<rect x="770.30" y="652.30" width="8.80" height="2.40" fill="#8c8c8c" stroke="#2a2a2a" stroke-width="0.8" rx="0.9" />
<circle cx="774.70" cy="646.30" r="3.90" fill="#cdcdcd" stroke="#222" stroke-width="1.1"/>
<circle cx="774.70" cy="646.30" r="2.00" fill="#f4f4f4" stroke="#444" stroke-width="0.8"/>
<rect x="689.12" y="648.90" width="7.00" height="5.80" fill="#f0f0f0" stroke="#333" stroke-width="0.8" rx="0" />
<rect x="689.12" y="652.50" width="7.00" height="2.00" fill="#7c7c7c" stroke="#333" stroke-width="0.6" rx="0" />
<rect x="702.62" y="648.90" width="8.20" height="5.80" fill="#f0f0f0" stroke="#333" stroke-width="0.8" rx="0" />
<rect x="702.62" y="652.50" width="8.20" height="2.00" fill="#7c7c7c" stroke="#333" stroke-width="0.6" rx="0" />
<polygon points="686.42,646.10 687.22,644.30 690.42,643.30 692.42,641.70 697.42,641.70 697.42,648.90 687.22,648.90 686.42,647.90" fill="#e8e8e8" stroke="#2e2e2e" stroke-width="0.9"/>
<polygon points="697.82,645.10 704.02,641.50 709.82,641.50 712.82,643.90 713.62,644.50 713.62,648.10 712.62,648.90 697.82,648.90" fill="#e8e8e8" stroke="#2e2e2e" stroke-width="0.9"/>
<rect x="798.20" y="161.40" width="164.80" height="492.60" fill="#ececec" stroke="none" stroke-width="1" rx="0" />
<rect x="803.80" y="172.40" width="153.60" height="470.20" fill="#848484" stroke="none" stroke-width="1" rx="0" />
<rect x="798.20" y="161.40" width="164.80" height="3.60" fill="#7e7e7e" stroke="none" stroke-width="1" rx="0" />
<line x1="798.20" y1="162.00" x2="963.00" y2="162.00" stroke="#333" stroke-width="1.1" />
<line x1="800.60" y1="164.60" x2="960.60" y2="164.60" stroke="#333" stroke-width="1.1" />
<line x1="798.70" y1="161.40" x2="798.70" y2="654.00" stroke="#333" stroke-width="1.1" />
<line x1="801.00" y1="164.40" x2="801.00" y2="651.00" stroke="#444" stroke-width="1.0" />
<rect x="801.60" y="165.20" width="2.20" height="485.40" fill="#dadada" stroke="none" stroke-width="1" rx="0" />
<line x1="962.50" y1="161.40" x2="962.50" y2="654.00" stroke="#333" stroke-width="1.1" />
<line x1="960.20" y1="164.40" x2="960.20" y2="651.00" stroke="#444" stroke-width="1.0" />
<rect x="957.40" y="165.20" width="2.20" height="485.40" fill="#dadada" stroke="none" stroke-width="1" rx="0" />
<line x1="801.00" y1="650.80" x2="960.20" y2="650.80" stroke="#8a8a8a" stroke-width="1.0" />
<rect x="799.40" y="651.40" width="162.40" height="1.80" fill="#f4f4f4" stroke="none" stroke-width="1" rx="0" />
<line x1="798.20" y1="653.50" x2="963.00" y2="653.50" stroke="#2a2a2a" stroke-width="1.2" />
<rect x="804.20" y="172.40" width="7.00" height="470.10" fill="#2e2e2e" stroke="none" stroke-width="1" rx="1.4" />
<rect x="805.35" y="173.20" width="4.70" height="468.50" fill="#9c9c9c" stroke="none" stroke-width="1" rx="0.8" />
<rect x="806.22" y="175.60" width="2.96" height="463.70" fill="#f6f6f6" stroke="none" stroke-width="1" rx="0" />
<path d="M804.80 173.00 H810.60 L809.50 175.70 H805.90 Z" fill="#d8d8d8" stroke="#262626" stroke-width="0.9" stroke-linejoin="round"/>
<path d="M804.80 641.90 H810.60 L809.50 639.20 H805.90 Z" fill="#d8d8d8" stroke="#262626" stroke-width="0.9" stroke-linejoin="round"/>
<rect x="813.33" y="172.40" width="7.00" height="470.10" fill="#2e2e2e" stroke="none" stroke-width="1" rx="1.4" />
<rect x="814.48" y="173.20" width="4.70" height="468.50" fill="#9c9c9c" stroke="none" stroke-width="1" rx="0.8" />
<rect x="815.35" y="175.60" width="2.96" height="463.70" fill="#f6f6f6" stroke="none" stroke-width="1" rx="0" />
<path d="M813.93 173.00 H819.73 L818.63 175.70 H815.03 Z" fill="#d8d8d8" stroke="#262626" stroke-width="0.9" stroke-linejoin="round"/>
<path d="M813.93 641.90 H819.73 L818.63 639.20 H815.03 Z" fill="#d8d8d8" stroke="#262626" stroke-width="0.9" stroke-linejoin="round"/>
<rect x="822.46" y="172.40" width="7.00" height="470.10" fill="#2e2e2e" stroke="none" stroke-width="1" rx="1.4" />
<rect x="823.61" y="173.20" width="4.70" height="468.50" fill="#9c9c9c" stroke="none" stroke-width="1" rx="0.8" />
<rect x="824.48" y="175.60" width="2.96" height="463.70" fill="#f6f6f6" stroke="none" stroke-width="1" rx="0" />
<path d="M823.06 173.00 H828.86 L827.76 175.70 H824.16 Z" fill="#d8d8d8" stroke="#262626" stroke-width="0.9" stroke-linejoin="round"/>
<path d="M823.06 641.90 H828.86 L827.76 639.20 H824.16 Z" fill="#d8d8d8" stroke="#262626" stroke-width="0.9" stroke-linejoin="round"/>
<rect x="831.58" y="172.40" width="7.00" height="470.10" fill="#2e2e2e" stroke="none" stroke-width="1" rx="1.4" />
<rect x="832.73" y="173.20" width="4.70" height="468.50" fill="#9c9c9c" stroke="none" stroke-width="1" rx="0.8" />
<rect x="833.60" y="175.60" width="2.96" height="463.70" fill="#f6f6f6" stroke="none" stroke-width="1" rx="0" />
<path d="M832.18 173.00 H837.98 L836.88 175.70 H833.28 Z" fill="#d8d8d8" stroke="#262626" stroke-width="0.9" stroke-linejoin="round"/>
<path d="M832.18 641.90 H837.98 L836.88 639.20 H833.28 Z" fill="#d8d8d8" stroke="#262626" stroke-width="0.9" stroke-linejoin="round"/>
<rect x="840.71" y="172.40" width="7.00" height="470.10" fill="#2e2e2e" stroke="none" stroke-width="1" rx="1.4" />
<rect x="841.86" y="173.20" width="4.70" height="468.50" fill="#9c9c9c" stroke="none" stroke-width="1" rx="0.8" />
<rect x="842.73" y="175.60" width="2.96" height="463.70" fill="#f6f6f6" stroke="none" stroke-width="1" rx="0" />
<path d="M841.31 173.00 H847.11 L846.01 175.70 H842.41 Z" fill="#d8d8d8" stroke="#262626" stroke-width="0.9" stroke-linejoin="round"/>
<path d="M841.31 641.90 H847.11 L846.01 639.20 H842.41 Z" fill="#d8d8d8" stroke="#262626" stroke-width="0.9" stroke-linejoin="round"/>
<rect x="849.84" y="172.40" width="7.00" height="470.10" fill="#2e2e2e" stroke="none" stroke-width="1" rx="1.4" />
<rect x="850.99" y="173.20" width="4.70" height="468.50" fill="#9c9c9c" stroke="none" stroke-width="1" rx="0.8" />
<rect x="851.86" y="175.60" width="2.96" height="463.70" fill="#f6f6f6" stroke="none" stroke-width="1" rx="0" />
<path d="M850.44 173.00 H856.24 L855.14 175.70 H851.54 Z" fill="#d8d8d8" stroke="#262626" stroke-width="0.9" stroke-linejoin="round"/>
<path d="M850.44 641.90 H856.24 L855.14 639.20 H851.54 Z" fill="#d8d8d8" stroke="#262626" stroke-width="0.9" stroke-linejoin="round"/>
<rect x="858.97" y="172.40" width="7.00" height="470.10" fill="#2e2e2e" stroke="none" stroke-width="1" rx="1.4" />
<rect x="860.12" y="173.20" width="4.70" height="468.50" fill="#9c9c9c" stroke="none" stroke-width="1" rx="0.8" />
<rect x="860.99" y="175.60" width="2.96" height="463.70" fill="#f6f6f6" stroke="none" stroke-width="1" rx="0" />
<path d="M859.57 173.00 H865.37 L864.27 175.70 H860.67 Z" fill="#d8d8d8" stroke="#262626" stroke-width="0.9" stroke-linejoin="round"/>
<path d="M859.57 641.90 H865.37 L864.27 639.20 H860.67 Z" fill="#d8d8d8" stroke="#262626" stroke-width="0.9" stroke-linejoin="round"/>
<rect x="868.10" y="172.40" width="7.00" height="470.10" fill="#2e2e2e" stroke="none" stroke-width="1" rx="1.4" />
<rect x="869.25" y="173.20" width="4.70" height="468.50" fill="#9c9c9c" stroke="none" stroke-width="1" rx="0.8" />
<rect x="870.12" y="175.60" width="2.96" height="463.70" fill="#f6f6f6" stroke="none" stroke-width="1" rx="0" />
<path d="M868.70 173.00 H874.50 L873.40 175.70 H869.80 Z" fill="#d8d8d8" stroke="#262626" stroke-width="0.9" stroke-linejoin="round"/>
<path d="M868.70 641.90 H874.50 L873.40 639.20 H869.80 Z" fill="#d8d8d8" stroke="#262626" stroke-width="0.9" stroke-linejoin="round"/>
<rect x="877.23" y="172.40" width="7.00" height="470.10" fill="#2e2e2e" stroke="none" stroke-width="1" rx="1.4" />
<rect x="878.38" y="173.20" width="4.70" height="468.50" fill="#9c9c9c" stroke="none" stroke-width="1" rx="0.8" />
<rect x="879.25" y="175.60" width="2.96" height="463.70" fill="#f6f6f6" stroke="none" stroke-width="1" rx="0" />
<path d="M877.83 173.00 H883.62 L882.52 175.70 H878.93 Z" fill="#d8d8d8" stroke="#262626" stroke-width="0.9" stroke-linejoin="round"/>
<path d="M877.83 641.90 H883.62 L882.52 639.20 H878.93 Z" fill="#d8d8d8" stroke="#262626" stroke-width="0.9" stroke-linejoin="round"/>
<rect x="886.35" y="172.40" width="7.00" height="470.10" fill="#2e2e2e" stroke="none" stroke-width="1" rx="1.4" />
<rect x="887.50" y="173.20" width="4.70" height="468.50" fill="#9c9c9c" stroke="none" stroke-width="1" rx="0.8" />
<rect x="888.37" y="175.60" width="2.96" height="463.70" fill="#f6f6f6" stroke="none" stroke-width="1" rx="0" />
<path d="M886.95 173.00 H892.75 L891.65 175.70 H888.05 Z" fill="#d8d8d8" stroke="#262626" stroke-width="0.9" stroke-linejoin="round"/>
<path d="M886.95 641.90 H892.75 L891.65 639.20 H888.05 Z" fill="#d8d8d8" stroke="#262626" stroke-width="0.9" stroke-linejoin="round"/>
<rect x="895.48" y="172.40" width="7.00" height="470.10" fill="#2e2e2e" stroke="none" stroke-width="1" rx="1.4" />
<rect x="896.63" y="173.20" width="4.70" height="468.50" fill="#9c9c9c" stroke="none" stroke-width="1" rx="0.8" />
<rect x="897.50" y="175.60" width="2.96" height="463.70" fill="#f6f6f6" stroke="none" stroke-width="1" rx="0" />
<path d="M896.08 173.00 H901.88 L900.78 175.70 H897.18 Z" fill="#d8d8d8" stroke="#262626" stroke-width="0.9" stroke-linejoin="round"/>
<path d="M896.08 641.90 H901.88 L900.78 639.20 H897.18 Z" fill="#d8d8d8" stroke="#262626" stroke-width="0.9" stroke-linejoin="round"/>
<rect x="904.61" y="172.40" width="7.00" height="470.10" fill="#2e2e2e" stroke="none" stroke-width="1" rx="1.4" />
<rect x="905.76" y="173.20" width="4.70" height="468.50" fill="#9c9c9c" stroke="none" stroke-width="1" rx="0.8" />
<rect x="906.63" y="175.60" width="2.96" height="463.70" fill="#f6f6f6" stroke="none" stroke-width="1" rx="0" />
<path d="M905.21 173.00 H911.01 L909.91 175.70 H906.31 Z" fill="#d8d8d8" stroke="#262626" stroke-width="0.9" stroke-linejoin="round"/>
<path d="M905.21 641.90 H911.01 L909.91 639.20 H906.31 Z" fill="#d8d8d8" stroke="#262626" stroke-width="0.9" stroke-linejoin="round"/>
<rect x="913.74" y="172.40" width="7.00" height="470.10" fill="#2e2e2e" stroke="none" stroke-width="1" rx="1.4" />
<rect x="914.89" y="173.20" width="4.70" height="468.50" fill="#9c9c9c" stroke="none" stroke-width="1" rx="0.8" />
<rect x="915.76" y="175.60" width="2.96" height="463.70" fill="#f6f6f6" stroke="none" stroke-width="1" rx="0" />
<path d="M914.34 173.00 H920.14 L919.04 175.70 H915.44 Z" fill="#d8d8d8" stroke="#262626" stroke-width="0.9" stroke-linejoin="round"/>
<path d="M914.34 641.90 H920.14 L919.04 639.20 H915.44 Z" fill="#d8d8d8" stroke="#262626" stroke-width="0.9" stroke-linejoin="round"/>
<rect x="922.87" y="172.40" width="7.00" height="470.10" fill="#2e2e2e" stroke="none" stroke-width="1" rx="1.4" />
<rect x="924.02" y="173.20" width="4.70" height="468.50" fill="#9c9c9c" stroke="none" stroke-width="1" rx="0.8" />
<rect x="924.89" y="175.60" width="2.96" height="463.70" fill="#f6f6f6" stroke="none" stroke-width="1" rx="0" />
<path d="M923.47 173.00 H929.27 L928.17 175.70 H924.57 Z" fill="#d8d8d8" stroke="#262626" stroke-width="0.9" stroke-linejoin="round"/>
<path d="M923.47 641.90 H929.27 L928.17 639.20 H924.57 Z" fill="#d8d8d8" stroke="#262626" stroke-width="0.9" stroke-linejoin="round"/>
<rect x="931.99" y="172.40" width="7.00" height="470.10" fill="#2e2e2e" stroke="none" stroke-width="1" rx="1.4" />
<rect x="933.14" y="173.20" width="4.70" height="468.50" fill="#9c9c9c" stroke="none" stroke-width="1" rx="0.8" />
<rect x="934.01" y="175.60" width="2.96" height="463.70" fill="#f6f6f6" stroke="none" stroke-width="1" rx="0" />
<path d="M932.59 173.00 H938.39 L937.29 175.70 H933.69 Z" fill="#d8d8d8" stroke="#262626" stroke-width="0.9" stroke-linejoin="round"/>
<path d="M932.59 641.90 H938.39 L937.29 639.20 H933.69 Z" fill="#d8d8d8" stroke="#262626" stroke-width="0.9" stroke-linejoin="round"/>
<rect x="941.12" y="172.40" width="7.00" height="470.10" fill="#2e2e2e" stroke="none" stroke-width="1" rx="1.4" />
<rect x="942.27" y="173.20" width="4.70" height="468.50" fill="#9c9c9c" stroke="none" stroke-width="1" rx="0.8" />
<rect x="943.14" y="175.60" width="2.96" height="463.70" fill="#f6f6f6" stroke="none" stroke-width="1" rx="0" />
<path d="M941.72 173.00 H947.52 L946.42 175.70 H942.82 Z" fill="#d8d8d8" stroke="#262626" stroke-width="0.9" stroke-linejoin="round"/>
<path d="M941.72 641.90 H947.52 L946.42 639.20 H942.82 Z" fill="#d8d8d8" stroke="#262626" stroke-width="0.9" stroke-linejoin="round"/>
<rect x="950.25" y="172.40" width="7.00" height="470.10" fill="#2e2e2e" stroke="none" stroke-width="1" rx="1.4" />
<rect x="951.40" y="173.20" width="4.70" height="468.50" fill="#9c9c9c" stroke="none" stroke-width="1" rx="0.8" />
<rect x="952.27" y="175.60" width="2.96" height="463.70" fill="#f6f6f6" stroke="none" stroke-width="1" rx="0" />
<path d="M950.85 173.00 H956.65 L955.55 175.70 H951.95 Z" fill="#d8d8d8" stroke="#262626" stroke-width="0.9" stroke-linejoin="round"/>
<path d="M950.85 641.90 H956.65 L955.55 639.20 H951.95 Z" fill="#d8d8d8" stroke="#262626" stroke-width="0.9" stroke-linejoin="round"/>
<rect x="801.40" y="654.00" width="8.40" height="1.50" fill="#8a8a8a" stroke="none" stroke-width="1" rx="0.6" />
<rect x="869.40" y="654.00" width="8.40" height="1.50" fill="#8a8a8a" stroke="none" stroke-width="1" rx="0.6" />
<rect x="883.40" y="654.00" width="8.40" height="1.50" fill="#8a8a8a" stroke="none" stroke-width="1" rx="0.6" />
<rect x="951.40" y="654.00" width="8.40" height="1.50" fill="#8a8a8a" stroke="none" stroke-width="1" rx="0.6" />
</g>
<line x1="179.50" y1="660.00" x2="179.50" y2="690.50" stroke="#3a3a3a" stroke-width="1.0" />
<line x1="344.50" y1="660.00" x2="344.50" y2="690.50" stroke="#3a3a3a" stroke-width="1.0" />
<line x1="187.50" y1="660.00" x2="187.50" y2="675.00" stroke="#3a3a3a" stroke-width="1.0" />
<line x1="336.50" y1="660.00" x2="336.50" y2="675.00" stroke="#3a3a3a" stroke-width="1.0" />
<line x1="254.50" y1="660.00" x2="254.50" y2="675.00" stroke="#3a3a3a" stroke-width="1.0" />
<line x1="268.50" y1="660.00" x2="268.50" y2="675.00" stroke="#3a3a3a" stroke-width="1.0" />
<line x1="163.10" y1="672.50" x2="197.80" y2="672.50" stroke="#3a3a3a" stroke-width="1.0" />
<polygon points="179.60,672.50 174.60,670.75 174.60,674.25" fill="#1a1a1a" stroke="none" stroke-width="1"/>
<polygon points="187.30,672.50 192.30,670.75 192.30,674.25" fill="#1a1a1a" stroke="none" stroke-width="1"/>
<text x="168.40" y="669.00" font-size="7.6" text-anchor="middle" font-weight="normal" fill="#333" >28</text>
<line x1="244.40" y1="672.50" x2="284.90" y2="672.50" stroke="#3a3a3a" stroke-width="1.0" />
<polygon points="254.90,672.50 249.90,670.75 249.90,674.25" fill="#1a1a1a" stroke="none" stroke-width="1"/>
<polygon points="268.90,672.50 273.90,670.75 273.90,674.25" fill="#1a1a1a" stroke="none" stroke-width="1"/>
<text x="280.10" y="669.00" font-size="7.6" text-anchor="middle" font-weight="normal" fill="#333" >50</text>
<line x1="326.00" y1="672.50" x2="360.70" y2="672.50" stroke="#3a3a3a" stroke-width="1.0" />
<polygon points="336.50,672.50 331.50,670.75 331.50,674.25" fill="#1a1a1a" stroke="none" stroke-width="1"/>
<polygon points="344.20,672.50 349.20,670.75 349.20,674.25" fill="#1a1a1a" stroke="none" stroke-width="1"/>
<text x="355.40" y="669.00" font-size="7.6" text-anchor="middle" font-weight="normal" fill="#333" >28</text>
<line x1="179.60" y1="687.50" x2="344.20" y2="687.50" stroke="#3a3a3a" stroke-width="1.0" />
<polygon points="179.60,687.50 184.60,685.75 184.60,689.25" fill="#1a1a1a" stroke="none" stroke-width="1"/>
<polygon points="344.20,687.50 339.20,685.75 339.20,689.25" fill="#1a1a1a" stroke="none" stroke-width="1"/>
<text x="261.90" y="683.90" font-size="7.6" text-anchor="middle" font-weight="normal" fill="#333" >A</text>
<line x1="392.50" y1="660.00" x2="392.50" y2="690.50" stroke="#3a3a3a" stroke-width="1.0" />
<line x1="556.50" y1="660.00" x2="556.50" y2="690.50" stroke="#3a3a3a" stroke-width="1.0" />
<line x1="399.50" y1="660.00" x2="399.50" y2="675.00" stroke="#3a3a3a" stroke-width="1.0" />
<line x1="549.50" y1="660.00" x2="549.50" y2="675.00" stroke="#3a3a3a" stroke-width="1.0" />
<line x1="467.50" y1="660.00" x2="467.50" y2="675.00" stroke="#3a3a3a" stroke-width="1.0" />
<line x1="481.50" y1="660.00" x2="481.50" y2="675.00" stroke="#3a3a3a" stroke-width="1.0" />
<line x1="375.90" y1="672.50" x2="410.20" y2="672.50" stroke="#3a3a3a" stroke-width="1.0" />
<polygon points="392.40,672.50 387.40,670.75 387.40,674.25" fill="#1a1a1a" stroke="none" stroke-width="1"/>
<polygon points="399.70,672.50 404.70,670.75 404.70,674.25" fill="#1a1a1a" stroke="none" stroke-width="1"/>
<text x="381.20" y="669.00" font-size="7.6" text-anchor="middle" font-weight="normal" fill="#333" >28</text>
<line x1="457.10" y1="672.50" x2="497.60" y2="672.50" stroke="#3a3a3a" stroke-width="1.0" />
<polygon points="467.60,672.50 462.60,670.75 462.60,674.25" fill="#1a1a1a" stroke="none" stroke-width="1"/>
<polygon points="481.60,672.50 486.60,670.75 486.60,674.25" fill="#1a1a1a" stroke="none" stroke-width="1"/>
<text x="492.80" y="669.00" font-size="7.6" text-anchor="middle" font-weight="normal" fill="#333" >50</text>
<line x1="539.00" y1="672.50" x2="573.30" y2="672.50" stroke="#3a3a3a" stroke-width="1.0" />
<polygon points="549.50,672.50 544.50,670.75 544.50,674.25" fill="#1a1a1a" stroke="none" stroke-width="1"/>
<polygon points="556.80,672.50 561.80,670.75 561.80,674.25" fill="#1a1a1a" stroke="none" stroke-width="1"/>
<text x="568.00" y="669.00" font-size="7.6" text-anchor="middle" font-weight="normal" fill="#333" >28</text>
<line x1="392.40" y1="687.50" x2="556.80" y2="687.50" stroke="#3a3a3a" stroke-width="1.0" />
<polygon points="392.40,687.50 397.40,685.75 397.40,689.25" fill="#1a1a1a" stroke="none" stroke-width="1"/>
<polygon points="556.80,687.50 551.80,685.75 551.80,689.25" fill="#1a1a1a" stroke="none" stroke-width="1"/>
<text x="474.60" y="683.90" font-size="7.6" text-anchor="middle" font-weight="normal" fill="#333" >A</text>
<line x1="347.50" y1="162.50" x2="365.80" y2="162.50" stroke="#3a3a3a" stroke-width="1.0" />
<line x1="347.50" y1="654.50" x2="365.80" y2="654.50" stroke="#3a3a3a" stroke-width="1.0" />
<line x1="362.50" y1="162.60" x2="362.50" y2="654.20" stroke="#3a3a3a" stroke-width="1.0" />
<polygon points="362.50,162.60 360.75,167.60 364.25,167.60" fill="#1a1a1a" stroke="none" stroke-width="1"/>
<polygon points="362.50,654.20 360.75,649.20 364.25,649.20" fill="#1a1a1a" stroke="none" stroke-width="1"/>
<text transform="translate(360.10,408.00) rotate(-90)" font-size="7.6" text-anchor="middle" fill="#333">B</text>
<line x1="560.30" y1="162.50" x2="578.50" y2="162.50" stroke="#3a3a3a" stroke-width="1.0" />
<line x1="560.30" y1="653.50" x2="578.50" y2="653.50" stroke="#3a3a3a" stroke-width="1.0" />
<line x1="575.50" y1="162.40" x2="575.50" y2="653.80" stroke="#3a3a3a" stroke-width="1.0" />
<polygon points="575.50,162.40 573.75,167.40 577.25,167.40" fill="#1a1a1a" stroke="none" stroke-width="1"/>
<polygon points="575.50,653.80 573.75,648.80 577.25,648.80" fill="#1a1a1a" stroke="none" stroke-width="1"/>
<text transform="translate(573.00,408.00) rotate(-90)" font-size="7.6" text-anchor="middle" fill="#333">B</text>
<text x="179.60" y="717.60" font-size="13" text-anchor="start" font-weight="bold" fill="#1d1d1b" textLength="36.6" lengthAdjust="spacingAndGlyphs" >typ 10</text>
<text x="389.60" y="717.60" font-size="13" text-anchor="start" font-weight="bold" fill="#1d1d1b" textLength="88.0" lengthAdjust="spacingAndGlyphs" >typy 20, 21, 22</text>
<text x="616.60" y="717.60" font-size="13" text-anchor="start" font-weight="bold" fill="#1d1d1b" textLength="36.6" lengthAdjust="spacingAndGlyphs" >typ 10</text>
<text x="796.60" y="717.60" font-size="13" text-anchor="start" font-weight="bold" fill="#1d1d1b" textLength="88.0" lengthAdjust="spacingAndGlyphs" >typy 20, 21, 22</text>
<line x1="642.50" y1="148.80" x2="642.50" y2="159.60" stroke="#3a3a3a" stroke-width="1.0" />
<line x1="700.50" y1="148.80" x2="700.50" y2="159.60" stroke="#3a3a3a" stroke-width="1.0" />
<line x1="757.50" y1="148.80" x2="757.50" y2="159.60" stroke="#3a3a3a" stroke-width="1.0" />
<line x1="642.40" y1="151.50" x2="757.60" y2="151.50" stroke="#3a3a3a" stroke-width="1.0" />
<polygon points="642.40,151.50 647.40,149.75 647.40,153.25" fill="#1a1a1a" stroke="none" stroke-width="1"/>
<polygon points="700.00,151.50 695.00,149.75 695.00,153.25" fill="#1a1a1a" stroke="none" stroke-width="1"/>
<polygon points="700.00,151.50 705.00,149.75 705.00,153.25" fill="#1a1a1a" stroke="none" stroke-width="1"/>
<polygon points="757.60,151.50 752.60,149.75 752.60,153.25" fill="#1a1a1a" stroke="none" stroke-width="1"/>
<text x="671.20" y="148.90" font-size="7.6" text-anchor="middle" font-weight="normal" fill="#333" >a1</text>
<text x="728.80" y="148.90" font-size="7.6" text-anchor="middle" font-weight="normal" fill="#333" >a1</text>
<line x1="618.50" y1="660.00" x2="618.50" y2="690.50" stroke="#3a3a3a" stroke-width="1.0" />
<line x1="782.50" y1="660.00" x2="782.50" y2="690.50" stroke="#3a3a3a" stroke-width="1.0" />
<line x1="645.50" y1="660.00" x2="645.50" y2="674.50" stroke="#3a3a3a" stroke-width="1.0" />
<line x1="700.50" y1="660.00" x2="700.50" y2="674.50" stroke="#3a3a3a" stroke-width="1.0" />
<line x1="754.50" y1="660.00" x2="754.50" y2="674.50" stroke="#3a3a3a" stroke-width="1.0" />
<line x1="645.50" y1="671.50" x2="754.70" y2="671.50" stroke="#3a3a3a" stroke-width="1.0" />
<polygon points="645.50,671.50 650.50,669.75 650.50,673.25" fill="#1a1a1a" stroke="none" stroke-width="1"/>
<polygon points="700.00,671.50 695.00,669.75 695.00,673.25" fill="#1a1a1a" stroke="none" stroke-width="1"/>
<polygon points="700.00,671.50 705.00,669.75 705.00,673.25" fill="#1a1a1a" stroke="none" stroke-width="1"/>
<polygon points="754.70,671.50 749.70,669.75 749.70,673.25" fill="#1a1a1a" stroke="none" stroke-width="1"/>
<text x="672.75" y="668.60" font-size="7.6" text-anchor="middle" font-weight="normal" fill="#333" >a2</text>
<text x="727.35" y="668.60" font-size="7.6" text-anchor="middle" font-weight="normal" fill="#333" >a2</text>
<line x1="618.00" y1="687.50" x2="782.40" y2="687.50" stroke="#3a3a3a" stroke-width="1.0" />
<polygon points="618.00,687.50 623.00,685.75 623.00,689.25" fill="#1a1a1a" stroke="none" stroke-width="1"/>
<polygon points="782.40,687.50 777.40,685.75 777.40,689.25" fill="#1a1a1a" stroke="none" stroke-width="1"/>
<text x="700.20" y="683.60" font-size="7.6" text-anchor="middle" font-weight="normal" fill="#333" >A</text>
<line x1="823.50" y1="148.80" x2="823.50" y2="159.60" stroke="#3a3a3a" stroke-width="1.0" />
<line x1="880.50" y1="148.80" x2="880.50" y2="159.60" stroke="#3a3a3a" stroke-width="1.0" />
<line x1="938.50" y1="148.80" x2="938.50" y2="159.60" stroke="#3a3a3a" stroke-width="1.0" />
<line x1="823.30" y1="151.50" x2="938.60" y2="151.50" stroke="#3a3a3a" stroke-width="1.0" />
<polygon points="823.30,151.50 828.30,149.75 828.30,153.25" fill="#1a1a1a" stroke="none" stroke-width="1"/>
<polygon points="880.40,151.50 875.40,149.75 875.40,153.25" fill="#1a1a1a" stroke="none" stroke-width="1"/>
<polygon points="880.40,151.50 885.40,149.75 885.40,153.25" fill="#1a1a1a" stroke="none" stroke-width="1"/>
<polygon points="938.60,151.50 933.60,149.75 933.60,153.25" fill="#1a1a1a" stroke="none" stroke-width="1"/>
<text x="851.85" y="148.90" font-size="7.6" text-anchor="middle" font-weight="normal" fill="#333" >a1</text>
<text x="909.50" y="148.90" font-size="7.6" text-anchor="middle" font-weight="normal" fill="#333" >a1</text>
<line x1="799.50" y1="660.00" x2="799.50" y2="690.50" stroke="#3a3a3a" stroke-width="1.0" />
<line x1="962.50" y1="660.00" x2="962.50" y2="690.50" stroke="#3a3a3a" stroke-width="1.0" />
<line x1="826.50" y1="660.00" x2="826.50" y2="674.50" stroke="#3a3a3a" stroke-width="1.0" />
<line x1="880.50" y1="660.00" x2="880.50" y2="674.50" stroke="#3a3a3a" stroke-width="1.0" />
<line x1="935.50" y1="660.00" x2="935.50" y2="674.50" stroke="#3a3a3a" stroke-width="1.0" />
<line x1="826.20" y1="671.50" x2="935.50" y2="671.50" stroke="#3a3a3a" stroke-width="1.0" />
<polygon points="826.20,671.50 831.20,669.75 831.20,673.25" fill="#1a1a1a" stroke="none" stroke-width="1"/>
<polygon points="880.40,671.50 875.40,669.75 875.40,673.25" fill="#1a1a1a" stroke="none" stroke-width="1"/>
<polygon points="880.40,671.50 885.40,669.75 885.40,673.25" fill="#1a1a1a" stroke="none" stroke-width="1"/>
<polygon points="935.50,671.50 930.50,669.75 930.50,673.25" fill="#1a1a1a" stroke="none" stroke-width="1"/>
<text x="853.30" y="668.60" font-size="7.6" text-anchor="middle" font-weight="normal" fill="#333" >a2</text>
<text x="907.95" y="668.60" font-size="7.6" text-anchor="middle" font-weight="normal" fill="#333" >a2</text>
<line x1="799.00" y1="687.50" x2="962.80" y2="687.50" stroke="#3a3a3a" stroke-width="1.0" />
<polygon points="799.00,687.50 804.00,685.75 804.00,689.25" fill="#1a1a1a" stroke="none" stroke-width="1"/>
<polygon points="962.80,687.50 957.80,685.75 957.80,689.25" fill="#1a1a1a" stroke="none" stroke-width="1"/>
<text x="880.90" y="683.60" font-size="7.6" text-anchor="middle" font-weight="normal" fill="#333" >A</text>
<line x1="966.00" y1="162.50" x2="1022.50" y2="162.50" stroke="#3a3a3a" stroke-width="1.0" />
<line x1="966.00" y1="653.50" x2="1022.50" y2="653.50" stroke="#3a3a3a" stroke-width="1.0" />
<line x1="966.00" y1="257.50" x2="1003.50" y2="257.50" stroke="#3a3a3a" stroke-width="1.0" />
<line x1="966.00" y1="599.50" x2="984.50" y2="599.50" stroke="#3a3a3a" stroke-width="1.0" />
<line x1="966.00" y1="635.50" x2="984.50" y2="635.50" stroke="#3a3a3a" stroke-width="1.0" />
<line x1="1020.50" y1="162.50" x2="1020.50" y2="653.70" stroke="#3a3a3a" stroke-width="1.0" />
<polygon points="1020.50,162.50 1018.75,167.50 1022.25,167.50" fill="#1a1a1a" stroke="none" stroke-width="1"/>
<polygon points="1020.50,653.70 1018.75,648.70 1022.25,648.70" fill="#1a1a1a" stroke="none" stroke-width="1"/>
<text transform="translate(1017.80,408.00) rotate(-90)" font-size="7.6" text-anchor="middle" fill="#333">B</text>
<line x1="1001.50" y1="257.90" x2="1001.50" y2="653.70" stroke="#3a3a3a" stroke-width="1.0" />
<polygon points="1001.50,257.90 999.75,262.90 1003.25,262.90" fill="#1a1a1a" stroke="none" stroke-width="1"/>
<polygon points="1001.50,653.70 999.75,648.70 1003.25,648.70" fill="#1a1a1a" stroke="none" stroke-width="1"/>
<text transform="translate(998.80,455.50) rotate(-90)" font-size="7.6" text-anchor="middle" fill="#333">b1</text>
<line x1="981.50" y1="257.90" x2="981.50" y2="653.70" stroke="#3a3a3a" stroke-width="1.0" />
<polygon points="981.50,257.90 979.75,262.90 983.25,262.90" fill="#1a1a1a" stroke="none" stroke-width="1"/>
<polygon points="981.50,599.40 979.75,594.40 983.25,594.40" fill="#1a1a1a" stroke="none" stroke-width="1"/>
<polygon points="981.50,599.40 979.75,604.40 983.25,604.40" fill="#1a1a1a" stroke="none" stroke-width="1"/>
<polygon points="981.50,635.00 979.75,630.00 983.25,630.00" fill="#1a1a1a" stroke="none" stroke-width="1"/>
<polygon points="981.50,635.00 979.75,640.00 983.25,640.00" fill="#1a1a1a" stroke="none" stroke-width="1"/>
<polygon points="981.50,653.70 979.75,648.70 983.25,648.70" fill="#1a1a1a" stroke="none" stroke-width="1"/>
<text transform="translate(979.0,428) rotate(-90)" font-size="7.6" text-anchor="middle" fill="#333">b2</text>
<text transform="translate(979.0,617.3) rotate(-90)" font-size="7.6" text-anchor="middle" fill="#333">130</text>
<text transform="translate(979.0,644.5) rotate(-90)" font-size="7.6" text-anchor="middle" fill="#333">68</text>
<g filter="url(#soft)">
<line x1="642.40" y1="160.00" x2="642.40" y2="590.00" stroke="#333" stroke-width="0.9" stroke-dasharray="3 1.6"/>
<line x1="757.60" y1="160.00" x2="757.60" y2="590.00" stroke="#333" stroke-width="0.9" stroke-dasharray="3 1.6"/>
<line x1="823.30" y1="160.00" x2="823.30" y2="590.00" stroke="#333" stroke-width="0.9" stroke-dasharray="3 1.6"/>
<line x1="938.60" y1="160.00" x2="938.60" y2="590.00" stroke="#333" stroke-width="0.9" stroke-dasharray="3 1.6"/>
<rect x="620.60" y="254.30" width="3.20" height="7.20" fill="#f2f2f2" stroke="#555" stroke-width="0.7" rx="0" />
<rect x="776.40" y="254.30" width="3.20" height="7.20" fill="#f2f2f2" stroke="#555" stroke-width="0.7" rx="0" />
<rect x="623.60" y="254.00" width="153.00" height="7.80" fill="#ededed" stroke="#333" stroke-width="0.9" rx="0" />
<line x1="623.80" y1="255.60" x2="776.40" y2="255.60" stroke="#fafafa" stroke-width="1.2" />
<line x1="628.90" y1="257.90" x2="656.90" y2="257.90" stroke="#8a8a8a" stroke-width="0.9" stroke-dasharray="1.6 1.2"/>
<rect x="639.90" y="256.90" width="5.00" height="2.00" fill="#2c2c2c" stroke="none" stroke-width="1" rx="1.0" />
<line x1="744.10" y1="257.90" x2="772.10" y2="257.90" stroke="#8a8a8a" stroke-width="0.9" stroke-dasharray="1.6 1.2"/>
<rect x="755.10" y="256.90" width="5.00" height="2.00" fill="#2c2c2c" stroke="none" stroke-width="1" rx="1.0" />
<rect x="801.40" y="254.30" width="3.20" height="7.20" fill="#f2f2f2" stroke="#555" stroke-width="0.7" rx="0" />
<rect x="956.80" y="254.30" width="3.20" height="7.20" fill="#f2f2f2" stroke="#555" stroke-width="0.7" rx="0" />
<rect x="804.40" y="254.00" width="152.60" height="7.80" fill="#ededed" stroke="#333" stroke-width="0.9" rx="0" />
<line x1="804.60" y1="255.60" x2="956.80" y2="255.60" stroke="#fafafa" stroke-width="1.2" />
<line x1="809.80" y1="257.90" x2="837.80" y2="257.90" stroke="#8a8a8a" stroke-width="0.9" stroke-dasharray="1.6 1.2"/>
<rect x="820.80" y="256.90" width="5.00" height="2.00" fill="#2c2c2c" stroke="none" stroke-width="1" rx="1.0" />
<line x1="925.10" y1="257.90" x2="953.10" y2="257.90" stroke="#8a8a8a" stroke-width="0.9" stroke-dasharray="1.6 1.2"/>
<rect x="936.10" y="256.90" width="5.00" height="2.00" fill="#2c2c2c" stroke="none" stroke-width="1" rx="1.0" />
<polygon points="641.25,579.20 644.30,579.20 645.50,580.80 646.70,579.20 649.75,579.20 649.75,657.60 641.25,657.60" fill="#e7e7e7" stroke="#3c3c3c" stroke-width="0.9"/>
<line x1="645.50" y1="580.70" x2="645.50" y2="593.70" stroke="#333" stroke-width="1.3" stroke-dasharray="3.2 0.8"/>
<polygon points="643.50,582.40 647.50,582.40 645.50,587.40" fill="#333" stroke="none" stroke-width="1"/>
<rect x="644.50" y="596.70" width="2.00" height="6.00" fill="#f6f6f6" stroke="#333" stroke-width="0.8" rx="0.9" />
<circle cx="645.50" cy="603.80" r="2.10" fill="#f6f6f6" stroke="#333" stroke-width="0.8"/>
<circle cx="645.50" cy="629.40" r="1.00" fill="#333" stroke="none" stroke-width="1"/>
<rect x="644.40" y="632.80" width="2.20" height="4.40" fill="#f6f6f6" stroke="#333" stroke-width="0.8" rx="0.5" />
<polygon points="750.45,579.20 753.50,579.20 754.70,580.80 755.90,579.20 758.95,579.20 758.95,657.60 750.45,657.60" fill="#e7e7e7" stroke="#3c3c3c" stroke-width="0.9"/>
<line x1="754.70" y1="580.70" x2="754.70" y2="593.70" stroke="#333" stroke-width="1.3" stroke-dasharray="3.2 0.8"/>
<polygon points="752.70,582.40 756.70,582.40 754.70,587.40" fill="#333" stroke="none" stroke-width="1"/>
<rect x="753.70" y="596.70" width="2.00" height="6.00" fill="#f6f6f6" stroke="#333" stroke-width="0.8" rx="0.9" />
<circle cx="754.70" cy="603.80" r="2.10" fill="#f6f6f6" stroke="#333" stroke-width="0.8"/>
<circle cx="754.70" cy="629.40" r="1.00" fill="#333" stroke="none" stroke-width="1"/>
<rect x="753.60" y="632.80" width="2.20" height="4.40" fill="#f6f6f6" stroke="#333" stroke-width="0.8" rx="0.5" />
<polygon points="821.95,579.20 825.00,579.20 826.20,580.80 827.40,579.20 830.45,579.20 830.45,657.60 821.95,657.60" fill="#e7e7e7" stroke="#3c3c3c" stroke-width="0.9"/>
<line x1="826.20" y1="580.70" x2="826.20" y2="593.70" stroke="#333" stroke-width="1.3" stroke-dasharray="3.2 0.8"/>
<polygon points="824.20,582.40 828.20,582.40 826.20,587.40" fill="#333" stroke="none" stroke-width="1"/>
<rect x="825.20" y="596.70" width="2.00" height="6.00" fill="#f6f6f6" stroke="#333" stroke-width="0.8" rx="0.9" />
<circle cx="826.20" cy="603.80" r="2.10" fill="#f6f6f6" stroke="#333" stroke-width="0.8"/>
<circle cx="826.20" cy="629.40" r="1.00" fill="#333" stroke="none" stroke-width="1"/>
<rect x="825.10" y="632.80" width="2.20" height="4.40" fill="#f6f6f6" stroke="#333" stroke-width="0.8" rx="0.5" />
<polygon points="931.35,579.20 934.40,579.20 935.60,580.80 936.80,579.20 939.85,579.20 939.85,657.60 931.35,657.60" fill="#e7e7e7" stroke="#3c3c3c" stroke-width="0.9"/>
<line x1="935.60" y1="580.70" x2="935.60" y2="593.70" stroke="#333" stroke-width="1.3" stroke-dasharray="3.2 0.8"/>
<polygon points="933.60,582.40 937.60,582.40 935.60,587.40" fill="#333" stroke="none" stroke-width="1"/>
<rect x="934.60" y="596.70" width="2.00" height="6.00" fill="#f6f6f6" stroke="#333" stroke-width="0.8" rx="0.9" />
<circle cx="935.60" cy="603.80" r="2.10" fill="#f6f6f6" stroke="#333" stroke-width="0.8"/>
<circle cx="935.60" cy="629.40" r="1.00" fill="#333" stroke="none" stroke-width="1"/>
<rect x="934.50" y="632.80" width="2.20" height="4.40" fill="#f6f6f6" stroke="#333" stroke-width="0.8" rx="0.5" />
</g>
<rect x="180.80" y="871.30" width="342.90" height="19.00" fill="#dfe4e9" stroke="none" stroke-width="1" rx="0" />
<rect x="180.80" y="871.30" width="68.90" height="59.00" fill="#dfe4e9" stroke="none" stroke-width="1" rx="0" />
<line x1="180.80" y1="890.50" x2="523.70" y2="890.50" stroke="#48606a" stroke-width="1.15" />
<line x1="180.80" y1="910.50" x2="523.70" y2="910.50" stroke="#48606a" stroke-width="1.15" />
<line x1="180.80" y1="930.50" x2="523.70" y2="930.50" stroke="#48606a" stroke-width="1.15" />
<line x1="249.50" y1="871.30" x2="249.50" y2="930.30" stroke="#48606a" stroke-width="1.15" />
<line x1="304.50" y1="871.30" x2="304.50" y2="930.30" stroke="#48606a" stroke-width="1.15" />
<line x1="359.50" y1="871.30" x2="359.50" y2="930.30" stroke="#48606a" stroke-width="1.15" />
<line x1="414.50" y1="871.30" x2="414.50" y2="930.30" stroke="#48606a" stroke-width="1.15" />
<line x1="468.50" y1="871.30" x2="468.50" y2="930.30" stroke="#48606a" stroke-width="1.15" />
<text x="185.80" y="885.80" font-size="14" text-anchor="start" font-weight="bold" fill="#1d1d1b" textLength="42.2" lengthAdjust="spacingAndGlyphs" >B [mm]</text>
<text x="299.20" y="885.80" font-size="14" text-anchor="end" font-weight="bold" fill="#1d1d1b" style="letter-spacing:0.3px">1500</text>
<text x="354.00" y="885.80" font-size="14" text-anchor="end" font-weight="bold" fill="#1d1d1b" style="letter-spacing:0.3px">1800</text>
<text x="408.80" y="885.80" font-size="14" text-anchor="end" font-weight="bold" fill="#1d1d1b" style="letter-spacing:0.3px">1950</text>
<text x="463.60" y="885.80" font-size="14" text-anchor="end" font-weight="bold" fill="#1d1d1b" style="letter-spacing:0.3px">2100</text>
<text x="518.40" y="885.80" font-size="14" text-anchor="end" font-weight="bold" fill="#1d1d1b" style="letter-spacing:0.3px">2300</text>
<text x="185.80" y="905.40" font-size="14" text-anchor="start" font-weight="bold" fill="#1d1d1b" textLength="48.9" lengthAdjust="spacingAndGlyphs" >b1 [mm]</text>
<text x="299.20" y="905.40" font-size="14" text-anchor="end" font-weight="normal" fill="#858585" style="letter-spacing:0.3px">1150</text>
<text x="354.00" y="905.40" font-size="14" text-anchor="end" font-weight="normal" fill="#858585" style="letter-spacing:0.3px">1450</text>
<text x="408.80" y="905.40" font-size="14" text-anchor="end" font-weight="normal" fill="#858585" style="letter-spacing:0.3px">1600</text>
<text x="463.60" y="905.40" font-size="14" text-anchor="end" font-weight="normal" fill="#858585" style="letter-spacing:0.3px">1750</text>
<text x="518.40" y="905.40" font-size="14" text-anchor="end" font-weight="normal" fill="#858585" style="letter-spacing:0.3px">1950</text>
<text x="185.80" y="925.40" font-size="14" text-anchor="start" font-weight="bold" fill="#1d1d1b" textLength="48.9" lengthAdjust="spacingAndGlyphs" >b2 [mm]</text>
<text x="299.20" y="925.40" font-size="14" text-anchor="end" font-weight="normal" fill="#858585" style="letter-spacing:0.3px">952</text>
<text x="354.00" y="925.40" font-size="14" text-anchor="end" font-weight="normal" fill="#858585" style="letter-spacing:0.3px">1252</text>
<text x="408.80" y="925.40" font-size="14" text-anchor="end" font-weight="normal" fill="#858585" style="letter-spacing:0.3px">1402</text>
<text x="463.60" y="925.40" font-size="14" text-anchor="end" font-weight="normal" fill="#858585" style="letter-spacing:0.3px">1552</text>
<text x="518.40" y="925.40" font-size="14" text-anchor="end" font-weight="normal" fill="#858585" style="letter-spacing:0.3px">1752</text>
<rect x="179.80" y="955.50" width="287.70" height="19.80" fill="#dfe4e9" stroke="none" stroke-width="1" rx="0" />
<rect x="179.80" y="955.50" width="68.90" height="59.50" fill="#dfe4e9" stroke="none" stroke-width="1" rx="0" />
<line x1="179.80" y1="975.50" x2="467.50" y2="975.50" stroke="#48606a" stroke-width="1.15" />
<line x1="179.80" y1="995.50" x2="467.50" y2="995.50" stroke="#48606a" stroke-width="1.15" />
<line x1="179.80" y1="1015.50" x2="467.50" y2="1015.50" stroke="#48606a" stroke-width="1.15" />
<line x1="248.50" y1="955.50" x2="248.50" y2="1015.00" stroke="#48606a" stroke-width="1.15" />
<line x1="303.50" y1="955.50" x2="303.50" y2="1015.00" stroke="#48606a" stroke-width="1.15" />
<line x1="358.50" y1="955.50" x2="358.50" y2="1015.00" stroke="#48606a" stroke-width="1.15" />
<line x1="412.50" y1="955.50" x2="412.50" y2="1015.00" stroke="#48606a" stroke-width="1.15" />
<text x="184.80" y="970.20" font-size="14" text-anchor="start" font-weight="bold" fill="#1d1d1b" textLength="42.2" lengthAdjust="spacingAndGlyphs" >A [mm]</text>
<text x="298.10" y="970.20" font-size="14" text-anchor="end" font-weight="bold" fill="#1d1d1b" style="letter-spacing:0.3px">300</text>
<text x="352.80" y="970.20" font-size="14" text-anchor="end" font-weight="bold" fill="#1d1d1b" style="letter-spacing:0.3px">450</text>
<text x="407.50" y="970.20" font-size="14" text-anchor="end" font-weight="bold" fill="#1d1d1b" style="letter-spacing:0.3px">600</text>
<text x="462.20" y="970.20" font-size="14" text-anchor="end" font-weight="bold" fill="#1d1d1b" style="letter-spacing:0.3px">750</text>
<text x="184.80" y="990.10" font-size="14" text-anchor="start" font-weight="bold" fill="#1d1d1b" textLength="48.9" lengthAdjust="spacingAndGlyphs" >a1 [mm]</text>
<text x="298.10" y="990.10" font-size="14" text-anchor="end" font-weight="normal" fill="#858585" style="letter-spacing:0.3px">60</text>
<text x="352.80" y="990.10" font-size="14" text-anchor="end" font-weight="normal" fill="#858585" style="letter-spacing:0.3px">135</text>
<text x="407.50" y="990.10" font-size="14" text-anchor="end" font-weight="normal" fill="#858585" style="letter-spacing:0.3px">210</text>
<text x="462.20" y="990.10" font-size="14" text-anchor="end" font-weight="normal" fill="#858585" style="letter-spacing:0.3px">285</text>
<text x="184.80" y="1010.10" font-size="14" text-anchor="start" font-weight="bold" fill="#1d1d1b" textLength="48.9" lengthAdjust="spacingAndGlyphs" >a2 [mm]</text>
<text x="298.10" y="1010.10" font-size="14" text-anchor="end" font-weight="normal" fill="#858585" style="letter-spacing:0.3px">75</text>
<text x="352.80" y="1010.10" font-size="14" text-anchor="end" font-weight="normal" fill="#858585" style="letter-spacing:0.3px">125</text>
<text x="407.50" y="1010.10" font-size="14" text-anchor="end" font-weight="normal" fill="#858585" style="letter-spacing:0.3px">200</text>
<text x="462.20" y="1010.10" font-size="14" text-anchor="end" font-weight="normal" fill="#858585" style="letter-spacing:0.3px">250</text>
<rect x="572.70" y="873.60" width="108.10" height="163.80" fill="#ffffff" stroke="#b2b2b2" stroke-width="1.1" rx="2.0" />
<rect x="581.40" y="886.70" width="4.20" height="137.90" fill="none" stroke="#b2b2b2" stroke-width="1.1" rx="0" />
<rect x="590.02" y="886.70" width="4.20" height="137.90" fill="none" stroke="#b2b2b2" stroke-width="1.1" rx="0" />
<rect x="598.64" y="886.70" width="4.20" height="137.90" fill="none" stroke="#b2b2b2" stroke-width="1.1" rx="0" />
<rect x="607.26" y="886.70" width="4.20" height="137.90" fill="none" stroke="#b2b2b2" stroke-width="1.1" rx="0" />
<rect x="615.88" y="886.70" width="4.20" height="137.90" fill="none" stroke="#b2b2b2" stroke-width="1.1" rx="0" />
<rect x="624.50" y="886.70" width="4.20" height="137.90" fill="none" stroke="#b2b2b2" stroke-width="1.1" rx="0" />
<rect x="633.12" y="886.70" width="4.20" height="137.90" fill="none" stroke="#b2b2b2" stroke-width="1.1" rx="0" />
<rect x="641.74" y="886.70" width="4.20" height="137.90" fill="none" stroke="#b2b2b2" stroke-width="1.1" rx="0" />
<rect x="650.36" y="886.70" width="4.20" height="137.90" fill="none" stroke="#b2b2b2" stroke-width="1.1" rx="0" />
<rect x="658.98" y="886.70" width="4.20" height="137.90" fill="none" stroke="#b2b2b2" stroke-width="1.1" rx="0" />
<rect x="667.60" y="886.70" width="4.20" height="137.90" fill="none" stroke="#b2b2b2" stroke-width="1.1" rx="0" />
<rect x="600.00" y="1027.90" width="20.70" height="3.40" fill="#000" stroke="none" stroke-width="1" rx="0" />
<rect x="632.60" y="1027.90" width="41.70" height="3.40" fill="#000" stroke="none" stroke-width="1" rx="0" />
<rect x="620.70" y="1028.70" width="12.00" height="1.80" fill="#fff" stroke="#888" stroke-width="0.7" rx="0" />
<rect x="575.90" y="1029.60" width="5.80" height="8.00" fill="#000" stroke="none" stroke-width="1" rx="0" />
<circle cx="578.80" cy="1029.60" r="4.30" fill="#000" stroke="none" stroke-width="1"/>
<rect x="617.80" y="1029.60" width="5.80" height="8.00" fill="#000" stroke="none" stroke-width="1" rx="0" />
<circle cx="620.70" cy="1029.60" r="4.30" fill="#000" stroke="none" stroke-width="1"/>
<rect x="629.70" y="1029.60" width="5.80" height="8.00" fill="#000" stroke="none" stroke-width="1" rx="0" />
<circle cx="632.60" cy="1029.60" r="4.30" fill="#000" stroke="none" stroke-width="1"/>
<rect x="671.40" y="1029.60" width="5.80" height="8.00" fill="#000" stroke="none" stroke-width="1" rx="0" />
<circle cx="674.30" cy="1029.60" r="4.30" fill="#000" stroke="none" stroke-width="1"/>
<rect x="576.40" y="873.40" width="5.80" height="7.30" fill="#000" stroke="none" stroke-width="1" rx="0" />
<circle cx="579.30" cy="880.70" r="4.60" fill="#000" stroke="none" stroke-width="1"/>
<rect x="671.20" y="873.40" width="5.80" height="7.30" fill="#000" stroke="none" stroke-width="1" rx="0" />
<circle cx="674.10" cy="880.70" r="4.60" fill="#000" stroke="none" stroke-width="1"/>
<rect x="697.90" y="873.60" width="107.80" height="163.80" fill="#ffffff" stroke="#b2b2b2" stroke-width="1.1" rx="2.0" />
<rect x="707.50" y="886.70" width="3.70" height="137.90" fill="none" stroke="#b2b2b2" stroke-width="1.1" rx="0" />
<rect x="716.02" y="886.70" width="3.70" height="137.90" fill="none" stroke="#b2b2b2" stroke-width="1.1" rx="0" />
<rect x="724.54" y="886.70" width="3.70" height="137.90" fill="none" stroke="#b2b2b2" stroke-width="1.1" rx="0" />
<rect x="733.06" y="886.70" width="3.70" height="137.90" fill="none" stroke="#b2b2b2" stroke-width="1.1" rx="0" />
<rect x="741.58" y="886.70" width="3.70" height="137.90" fill="none" stroke="#b2b2b2" stroke-width="1.1" rx="0" />
<rect x="750.10" y="886.70" width="3.70" height="137.90" fill="none" stroke="#b2b2b2" stroke-width="1.1" rx="0" />
<rect x="758.62" y="886.70" width="3.70" height="137.90" fill="none" stroke="#b2b2b2" stroke-width="1.1" rx="0" />
<rect x="767.14" y="886.70" width="3.70" height="137.90" fill="none" stroke="#b2b2b2" stroke-width="1.1" rx="0" />
<rect x="775.66" y="886.70" width="3.70" height="137.90" fill="none" stroke="#b2b2b2" stroke-width="1.1" rx="0" />
<rect x="784.18" y="886.70" width="3.70" height="137.90" fill="none" stroke="#b2b2b2" stroke-width="1.1" rx="0" />
<rect x="792.70" y="886.70" width="3.70" height="137.90" fill="none" stroke="#b2b2b2" stroke-width="1.1" rx="0" />
<circle cx="752.4" cy="933.3" r="26.5" fill="#fff" filter="url(#soft2)"/>
<rect x="704.20" y="879.10" width="41.80" height="3.40" fill="#000" stroke="none" stroke-width="1" rx="0" />
<rect x="758.30" y="879.10" width="24.00" height="3.40" fill="#000" stroke="none" stroke-width="1" rx="0" />
<rect x="746.00" y="879.90" width="12.30" height="1.80" fill="#fff" stroke="#888" stroke-width="0.7" rx="0" />
<rect x="701.30" y="873.40" width="5.80" height="7.40" fill="#000" stroke="none" stroke-width="1" rx="0" />
<circle cx="704.20" cy="880.80" r="4.40" fill="#000" stroke="none" stroke-width="1"/>
<rect x="743.10" y="873.40" width="5.80" height="7.40" fill="#000" stroke="none" stroke-width="1" rx="0" />
<circle cx="746.00" cy="880.80" r="4.40" fill="#000" stroke="none" stroke-width="1"/>
<rect x="755.40" y="873.40" width="5.80" height="7.40" fill="#000" stroke="none" stroke-width="1" rx="0" />
<circle cx="758.30" cy="880.80" r="4.40" fill="#000" stroke="none" stroke-width="1"/>
<rect x="797.40" y="873.40" width="5.80" height="7.40" fill="#000" stroke="none" stroke-width="1" rx="0" />
<circle cx="800.30" cy="880.80" r="4.40" fill="#000" stroke="none" stroke-width="1"/>
<rect x="701.10" y="1030.20" width="5.80" height="7.40" fill="#000" stroke="none" stroke-width="1" rx="0" />
<circle cx="704.00" cy="1030.20" r="4.40" fill="#000" stroke="none" stroke-width="1"/>
<rect x="797.50" y="1030.20" width="5.80" height="7.40" fill="#000" stroke="none" stroke-width="1" rx="0" />
<circle cx="800.40" cy="1030.20" r="4.40" fill="#000" stroke="none" stroke-width="1"/>
<polygon points="576.30,1058.80 582.10,1058.80 582.10,1048.80 585.10,1048.80 579.20,1040.60 573.30,1048.80 576.30,1048.80" fill="#e3101f" stroke="none" stroke-width="1"/>
<polygon points="617.60,1058.80 623.40,1058.80 623.40,1048.80 626.40,1048.80 620.50,1040.60 614.60,1048.80 617.60,1048.80" fill="#e3101f" stroke="none" stroke-width="1"/>
<polygon points="629.70,1040.20 635.50,1040.20 635.50,1051.20 638.50,1051.20 632.60,1059.40 626.70,1051.20 629.70,1051.20" fill="#189ad6" stroke="none" stroke-width="1"/>
<polygon points="671.30,1040.20 677.10,1040.20 677.10,1051.20 680.10,1051.20 674.20,1059.40 668.30,1051.20 671.30,1051.20" fill="#189ad6" stroke="none" stroke-width="1"/>
<polygon points="701.30,851.40 707.10,851.40 707.10,862.20 710.10,862.20 704.20,870.40 698.30,862.20 701.30,862.20" fill="#e3101f" stroke="none" stroke-width="1"/>
<polygon points="743.10,851.40 748.90,851.40 748.90,862.20 751.90,862.20 746.00,870.40 740.10,862.20 743.10,862.20" fill="#e3101f" stroke="none" stroke-width="1"/>
<polygon points="755.40,870.60 761.20,870.60 761.20,859.60 764.20,859.60 758.30,851.40 752.40,859.60 755.40,859.60" fill="#189ad6" stroke="none" stroke-width="1"/>
<polygon points="797.30,870.60 803.10,870.60 803.10,859.60 806.10,859.60 800.20,851.40 794.30,859.60 797.30,859.60" fill="#189ad6" stroke="none" stroke-width="1"/>
<path d="M 753.4 953.7 A 19 19 0 0 1 751.6 915.7" fill="none" stroke="#000" stroke-width="2.3"/>
<polygon points="751.20,910.00 758.50,915.80 751.40,921.60" fill="#000" stroke="none" stroke-width="1"/>
<text x="743.00" y="938.60" font-size="11.4" text-anchor="start" font-weight="normal" fill="#5a5a5a" textLength="21.7" lengthAdjust="spacingAndGlyphs" >180°</text>
<line x1="845.60" y1="908.00" x2="845.60" y2="947.50" stroke="#c4c4c4" stroke-width="0.9" />
<path d="M845.6 947 Q845.6 949.2 848 949.2 L 893 949.2" fill="none" stroke="#c4c4c4" stroke-width="0.9"/>
<path d="M863.2 908 V923.4 H870.8 V908" fill="none" stroke="#c4c4c4" stroke-width="0.9"/>
<path d="M881.2 908 V923.4 H888.4 V908" fill="none" stroke="#c4c4c4" stroke-width="0.9"/>
<circle cx="858.40" cy="934.20" r="8.70" fill="#000" stroke="none" stroke-width="1"/>
<rect x="852.60" y="938.00" width="11.40" height="11.80" fill="#000" stroke="none" stroke-width="1" rx="0" />
<line x1="873.78" y1="931.43" x2="794.60" y2="886.40" stroke="#2a2a2a" stroke-width="1.25" />
<line x1="874.00" y1="936.00" x2="850.00" y2="943.50" stroke="#fff" stroke-width="3.4" />
<line x1="873.30" y1="936.26" x2="597.00" y2="1026.60" stroke="#2a2a2a" stroke-width="1.25" />
<circle cx="879.00" cy="934.40" r="4.30" fill="#9b9b9b" stroke="#2a2a2a" stroke-width="1.0"/>
<circle cx="589.80" cy="1029.60" r="7.50" fill="#fff" stroke="#111" stroke-width="1.3"/>
<rect x="584.20" y="1027.90" width="11.20" height="3.40" fill="#000" stroke="none" stroke-width="1" rx="1.0" />
<rect x="587.20" y="1026.00" width="5.20" height="7.20" fill="#000" stroke="none" stroke-width="1" rx="1.4" />
<rect x="588.20" y="1027.00" width="3.20" height="1.20" fill="#999" stroke="none" stroke-width="1" rx="0" />
<rect x="588.20" y="1031.10" width="3.20" height="1.20" fill="#999" stroke="none" stroke-width="1" rx="0" />
<circle cx="788.60" cy="880.80" r="7.50" fill="#fff" stroke="#111" stroke-width="1.3"/>
<rect x="783.00" y="879.10" width="11.20" height="3.40" fill="#000" stroke="none" stroke-width="1" rx="1.0" />
<rect x="786.00" y="877.20" width="5.20" height="7.20" fill="#000" stroke="none" stroke-width="1" rx="1.4" />
<rect x="787.00" y="878.20" width="3.20" height="1.20" fill="#999" stroke="none" stroke-width="1" rx="0" />
<rect x="787.00" y="882.30" width="3.20" height="1.20" fill="#999" stroke="none" stroke-width="1" rx="0" />
<text x="962.40" y="888.70" font-size="11.4" text-anchor="middle" font-weight="bold" fill="#1d1d1b" textLength="17.4" lengthAdjust="spacingAndGlyphs" >T10</text>
<polygon points="913.60,892.80 1017.60,892.80 1017.60,894.00 1020.20,894.00 1020.20,897.40 1017.60,897.40 1017.60,898.60 913.60,898.60 913.60,897.40 911.00,897.40 911.00,894.00 913.60,894.00" fill="#cccccc" stroke="none" stroke-width="1"/>
<rect x="915.60" y="898.00" width="2.60" height="3.00" fill="#444" stroke="none" stroke-width="1" rx="0" />
<rect x="1011.70" y="898.00" width="2.60" height="3.00" fill="#999" stroke="none" stroke-width="1" rx="0" />
<line x1="937.00" y1="903.60" x2="1012.00" y2="903.60" stroke="#222" stroke-width="0.9" />
<line x1="937.00" y1="906.80" x2="1012.00" y2="906.80" stroke="#222" stroke-width="0.9" />
<circle cx="959.50" cy="905.20" r="4.50" fill="#000" stroke="none" stroke-width="1"/>
<circle cx="971.30" cy="905.20" r="4.50" fill="#000" stroke="none" stroke-width="1"/>
<circle cx="1013.00" cy="905.20" r="4.50" fill="#000" stroke="none" stroke-width="1"/>
<circle cx="917.20" cy="904.40" r="4.20" fill="#000" stroke="none" stroke-width="1"/>
<line x1="920.00" y1="909.60" x2="926.50" y2="902.60" stroke="#fff" stroke-width="1.6" />
<line x1="918.60" y1="910.60" x2="924.00" y2="906.20" stroke="#333" stroke-width="0.9" />
<line x1="924.00" y1="906.80" x2="937.00" y2="906.80" stroke="#222" stroke-width="0.9" />
<circle cx="931.20" cy="898.40" r="7.00" fill="#fff" stroke="none" stroke-width="1"/>
<circle cx="931.20" cy="898.40" r="5.60" fill="#fff" stroke="#333" stroke-width="1.2"/>
<path d="M927.90 897.60 H934.50 A3.3 3.0 0 0 1 927.90 897.60 Z" fill="#9a9a9a" stroke="#333" stroke-width="0.6"/>
<line x1="927.80" y1="897.60" x2="934.60" y2="897.60" stroke="#222" stroke-width="1.1" />
<text x="963.00" y="941.80" font-size="11.4" text-anchor="middle" font-weight="bold" fill="#1d1d1b" textLength="36.2" lengthAdjust="spacingAndGlyphs" >T20/21</text>
<polygon points="913.60,947.50 1017.60,947.50 1017.60,948.70 1020.20,948.70 1020.20,952.10 1017.60,952.10 1017.60,953.30 913.60,953.30 913.60,952.10 911.00,952.10 911.00,948.70 913.60,948.70" fill="#cccccc" stroke="none" stroke-width="1"/>
<polygon points="913.60,967.20 1017.60,967.20 1017.60,968.40 1020.20,968.40 1020.20,970.70 1017.60,970.70 1017.60,971.90 913.60,971.90 913.60,970.70 911.00,970.70 911.00,968.40 913.60,968.40" fill="#cccccc" stroke="none" stroke-width="1"/>
<line x1="916.30" y1="953.00" x2="916.30" y2="967.40" stroke="#555" stroke-width="0.7" />
<line x1="918.70" y1="953.00" x2="918.70" y2="967.40" stroke="#555" stroke-width="0.7" />
<line x1="1011.80" y1="953.00" x2="1011.80" y2="967.40" stroke="#555" stroke-width="0.7" />
<line x1="1014.20" y1="953.00" x2="1014.20" y2="967.40" stroke="#555" stroke-width="0.7" />
<line x1="937.00" y1="958.20" x2="1012.00" y2="958.20" stroke="#222" stroke-width="0.9" />
<line x1="937.00" y1="961.40" x2="1012.00" y2="961.40" stroke="#222" stroke-width="0.9" />
<circle cx="959.50" cy="959.80" r="4.50" fill="#000" stroke="none" stroke-width="1"/>
<circle cx="971.30" cy="959.80" r="4.50" fill="#000" stroke="none" stroke-width="1"/>
<circle cx="1013.00" cy="959.80" r="4.50" fill="#000" stroke="none" stroke-width="1"/>
<circle cx="917.50" cy="959.80" r="4.50" fill="#000" stroke="none" stroke-width="1"/>
<rect x="923.40" y="943.60" width="15.60" height="31.80" fill="#fff" stroke="none" stroke-width="1" rx="7.8" />
<rect x="924.80" y="945.00" width="12.80" height="29.00" fill="#fff" stroke="#333" stroke-width="1.2" rx="6.4" />
<line x1="925.00" y1="958.20" x2="937.40" y2="958.20" stroke="#222" stroke-width="0.9" />
<line x1="925.00" y1="961.40" x2="937.40" y2="961.40" stroke="#222" stroke-width="0.9" />
<rect x="926.20" y="947.60" width="10.00" height="2.20" fill="#cccccc" stroke="none" stroke-width="1" rx="0" />
<rect x="926.20" y="969.20" width="10.00" height="2.20" fill="#cccccc" stroke="none" stroke-width="1" rx="0" />
<path d="M927.90 953.20 H934.50 A3.3 3.0 0 0 1 927.90 953.20 Z" fill="#9a9a9a" stroke="#333" stroke-width="0.6"/>
<line x1="927.80" y1="953.20" x2="934.60" y2="953.20" stroke="#222" stroke-width="1.1" />
<path d="M927.90 966.00 H934.50 A3.3 3.0 0 0 0 927.90 966.00 Z" fill="#9a9a9a" stroke="#333" stroke-width="0.6"/>
<line x1="927.80" y1="966.00" x2="934.60" y2="966.00" stroke="#222" stroke-width="1.1" />
<text x="963.60" y="1002.30" font-size="11.4" text-anchor="middle" font-weight="bold" fill="#1d1d1b" textLength="19.8" lengthAdjust="spacingAndGlyphs" >T22</text>
<polygon points="913.60,1006.40 1017.60,1006.40 1017.60,1007.60 1020.20,1007.60 1020.20,1011.10 1017.60,1011.10 1017.60,1012.30 913.60,1012.30 913.60,1011.10 911.00,1011.10 911.00,1007.60 913.60,1007.60" fill="#cccccc" stroke="none" stroke-width="1"/>
<polygon points="913.60,1032.60 1017.60,1032.60 1017.60,1033.80 1020.20,1033.80 1020.20,1037.10 1017.60,1037.10 1017.60,1038.30 913.60,1038.30 913.60,1037.10 911.00,1037.10 911.00,1033.80 913.60,1033.80" fill="#cccccc" stroke="none" stroke-width="1"/>
<line x1="916.20" y1="1012.00" x2="916.20" y2="1032.80" stroke="#333" stroke-width="0.8" />
<line x1="918.80" y1="1012.00" x2="918.80" y2="1032.80" stroke="#333" stroke-width="0.8" />
<line x1="1011.70" y1="1012.00" x2="1011.70" y2="1032.80" stroke="#333" stroke-width="0.8" />
<line x1="1014.30" y1="1012.00" x2="1014.30" y2="1032.80" stroke="#333" stroke-width="0.8" />
<line x1="937.00" y1="1024.70" x2="1012.00" y2="1024.70" stroke="#222" stroke-width="0.9" />
<line x1="937.00" y1="1027.90" x2="1012.00" y2="1027.90" stroke="#222" stroke-width="0.9" />
<circle cx="959.50" cy="1026.30" r="4.50" fill="#000" stroke="none" stroke-width="1"/>
<circle cx="971.30" cy="1026.30" r="4.50" fill="#000" stroke="none" stroke-width="1"/>
<circle cx="1013.00" cy="1026.30" r="4.50" fill="#000" stroke="none" stroke-width="1"/>
<circle cx="917.50" cy="1026.30" r="4.50" fill="#000" stroke="none" stroke-width="1"/>
<rect x="923.40" y="1002.60" width="15.60" height="39.60" fill="#fff" stroke="none" stroke-width="1" rx="7.8" />
<rect x="924.80" y="1004.00" width="12.80" height="36.80" fill="#fff" stroke="#333" stroke-width="1.2" rx="6.4" />
<line x1="925.00" y1="1024.70" x2="937.40" y2="1024.70" stroke="#222" stroke-width="0.9" />
<line x1="925.00" y1="1027.90" x2="937.40" y2="1027.90" stroke="#222" stroke-width="0.9" />
<rect x="926.20" y="1006.80" width="10.00" height="2.20" fill="#cccccc" stroke="none" stroke-width="1" rx="0" />
<rect x="926.20" y="1035.80" width="10.00" height="2.20" fill="#cccccc" stroke="none" stroke-width="1" rx="0" />
<path d="M927.90 1012.60 H934.50 A3.3 3.0 0 0 1 927.90 1012.60 Z" fill="#9a9a9a" stroke="#333" stroke-width="0.6"/>
<line x1="927.80" y1="1012.60" x2="934.60" y2="1012.60" stroke="#222" stroke-width="1.1" />
<path d="M927.90 1033.00 H934.50 A3.3 3.0 0 0 0 927.90 1033.00 Z" fill="#9a9a9a" stroke="#333" stroke-width="0.6"/>
<line x1="927.80" y1="1033.00" x2="934.60" y2="1033.00" stroke="#222" stroke-width="1.1" />
<line x1="883.96" y1="931.02" x2="926.60" y2="902.00" stroke="#2a2a2a" stroke-width="1.25" />
<line x1="884.83" y1="935.84" x2="927.60" y2="946.40" stroke="#2a2a2a" stroke-width="1.25" />
<line x1="882.42" y1="939.33" x2="927.90" y2="1005.00" stroke="#2a2a2a" stroke-width="1.25" />
<circle cx="879.00" cy="934.40" r="4.30" fill="#9b9b9b" stroke="#2a2a2a" stroke-width="1.0"/>
</svg></body></html>
